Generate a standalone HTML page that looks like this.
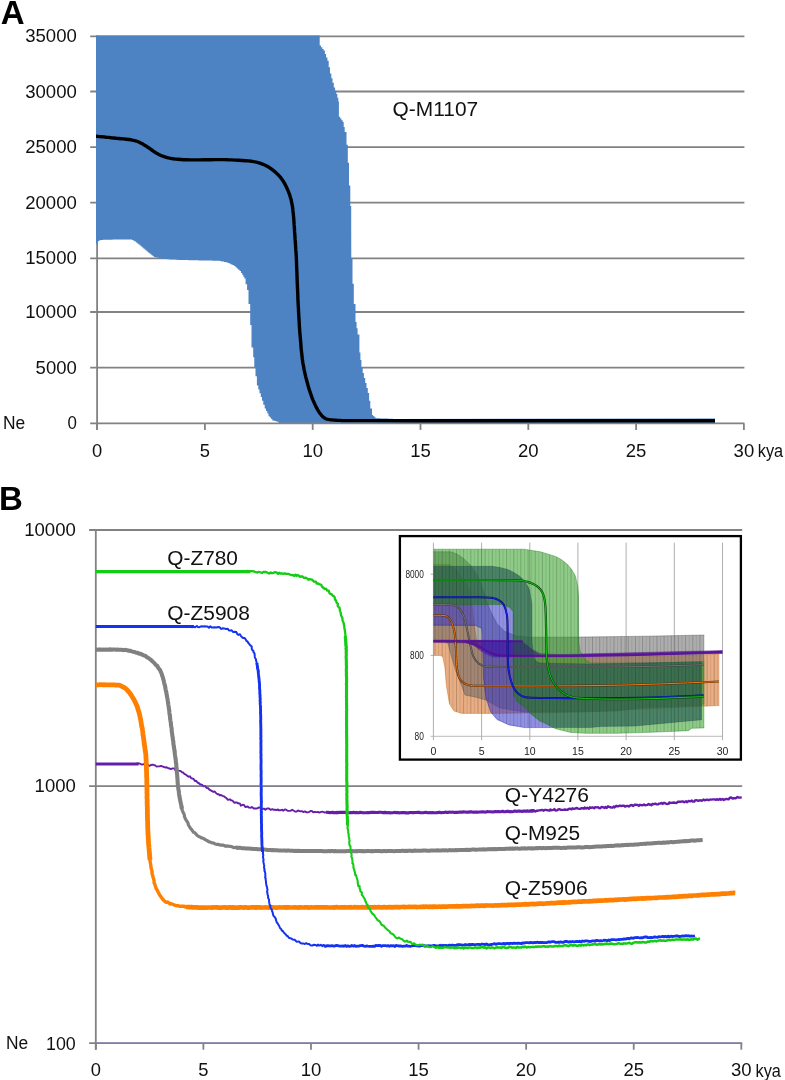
<!DOCTYPE html>
<html><head><meta charset="utf-8"><title>Figure</title>
<style>html,body{margin:0;padding:0;background:#fff;}svg{display:block;}text{font-family:"Liberation Sans",sans-serif;}</style>
</head><body>
<svg width="785" height="1080" viewBox="0 0 785 1080" style="will-change:transform">
<rect width="785" height="1080" fill="#fff"/>
<g id="panelA">
<line x1="90.2" x2="744.4" y1="367.60" y2="367.60" stroke="#828282" stroke-width="1.8"/>
<line x1="90.2" x2="744.4" y1="312.00" y2="312.00" stroke="#828282" stroke-width="1.8"/>
<line x1="90.2" x2="744.4" y1="258.40" y2="258.40" stroke="#828282" stroke-width="1.8"/>
<line x1="90.2" x2="744.4" y1="202.70" y2="202.70" stroke="#828282" stroke-width="1.8"/>
<line x1="90.2" x2="744.4" y1="147.10" y2="147.10" stroke="#828282" stroke-width="1.8"/>
<line x1="90.2" x2="744.4" y1="91.50" y2="91.50" stroke="#828282" stroke-width="1.8"/>
<line x1="90.2" x2="744.4" y1="36.40" y2="36.40" stroke="#828282" stroke-width="1.8"/>
<line x1="97.1" x2="97.1" y1="35.6" y2="429.9" stroke="#828282" stroke-width="1.8"/>
<polygon points="96.0,244.7 96.0,35.6 318.5,35.6 319.7,35.6 319.7,45.5 321.0,45.5 321.0,47.2 322.3,47.2 322.3,48.9 323.6,48.9 323.6,50.6 324.9,50.6 324.9,54.0 326.1,54.0 326.1,57.4 327.4,57.4 327.4,60.8 328.7,60.8 328.7,67.2 330.0,67.2 330.0,73.5 331.3,73.5 331.3,78.2 332.5,78.2 332.5,82.8 333.8,82.8 333.8,87.5 335.1,87.5 335.1,90.7 336.3,90.7 336.3,93.9 337.3,93.9 337.3,97.7 338.3,97.7 338.3,101.5 338.9,101.5 338.9,116.8 340.2,116.8 340.2,118.5 341.4,118.5 341.4,120.3 342.7,120.3 342.7,122.0 343.7,122.0 343.7,127.0 344.7,127.0 344.7,132.0 346.5,132.0 346.5,144.8 347.8,144.8 347.8,162.7 349.0,162.7 349.0,185.6 350.3,185.6 350.3,206.0 351.2,206.0 351.2,230.0 351.3,258.0 352.5,258.0 352.5,283.7 353.8,283.7 353.8,304.0 355.5,304.0 355.5,322.0 356.6,322.0 356.6,328.3 357.6,328.3 357.6,334.6 359.4,334.6 359.4,352.5 360.4,352.5 360.4,360.1 361.4,360.1 361.4,367.8 362.7,367.8 362.7,372.9 363.9,372.9 363.9,377.9 365.2,377.9 365.2,383.0 366.5,383.0 366.5,388.0 367.8,388.0 367.8,393.0 369.1,393.0 369.1,400.8 370.3,400.8 370.3,408.5 372.0,408.5 372.0,415.0 373.1,415.0 373.1,416.1 374.3,416.1 374.3,417.1 375.4,417.1 375.4,418.2 376.7,418.2 376.7,418.2 377.9,418.2 377.9,418.3 379.2,418.3 379.2,418.3 380.4,418.3 380.4,418.4 381.7,418.4 381.7,418.4 382.9,418.4 382.9,418.5 384.2,418.5 384.2,418.5 385.5,418.5 385.5,418.6 386.7,418.6 386.7,418.6 388.0,418.6 388.0,418.7 389.2,418.7 389.2,418.8 390.5,418.8 390.5,418.8 391.7,418.8 391.7,418.8 393.0,418.8 393.0,418.9 715.0,418.6 715.0,423.0 278.6,423.0 278.6,421.8 277.4,421.8 277.4,421.5 276.1,421.5 276.1,421.1 274.9,421.1 274.9,420.8 273.6,420.8 273.6,420.5 272.3,420.5 272.3,419.1 271.1,419.1 271.1,417.6 269.8,417.6 269.8,416.2 268.5,416.2 268.5,413.6 267.3,413.6 267.3,411.1 266.0,411.1 266.0,408.5 264.7,408.5 264.7,404.7 263.3,404.7 263.3,400.8 262.0,400.8 262.0,397.0 260.8,397.0 260.8,393.2 259.5,393.2 259.5,389.4 258.3,389.4 258.3,385.6 256.9,385.6 256.9,376.3 255.5,376.3 255.5,367.0 254.3,367.0 254.3,357.2 253.2,357.2 253.2,347.4 251.5,347.4 251.5,325.0 250.2,325.0 250.2,304.0 248.5,304.0 248.5,290.0 247.1,290.0 247.1,284.3 245.6,284.3 245.6,278.6 244.4,278.6 244.4,276.7 243.3,276.7 243.3,274.8 242.2,274.8 242.2,272.9 241.0,272.9 241.0,271.0 239.6,271.0 239.6,269.7 238.2,269.7 238.2,268.4 236.8,268.4 236.8,267.2 235.4,267.2 235.4,265.9 234.2,265.9 234.2,265.3 232.9,265.3 232.9,264.8 231.7,264.8 231.7,264.2 230.5,264.2 230.5,263.6 229.2,263.6 229.2,263.1 228.0,263.1 228.0,262.5 226.7,262.5 226.7,262.2 225.3,262.2 225.3,261.9 224.0,261.9 224.0,261.6 222.7,261.6 222.7,261.4 221.3,261.4 221.3,261.1 220.0,261.1 220.0,260.8 218.7,260.8 218.7,260.8 217.5,260.8 217.5,260.7 216.2,260.7 216.2,260.7 214.9,260.7 214.9,260.7 213.7,260.7 213.7,260.7 212.4,260.7 212.4,260.6 211.1,260.6 211.1,260.6 209.9,260.6 209.9,260.6 208.6,260.6 208.6,260.6 207.3,260.6 207.3,260.5 206.1,260.5 206.1,260.5 204.8,260.5 204.8,260.5 203.5,260.5 203.5,260.5 202.3,260.5 202.3,260.4 201.0,260.4 201.0,260.4 199.7,260.4 199.7,260.4 198.5,260.4 198.5,260.3 197.2,260.3 197.2,260.3 195.9,260.3 195.9,260.3 194.7,260.3 194.7,260.3 193.4,260.3 193.4,260.2 192.1,260.2 192.1,260.2 190.9,260.2 190.9,260.2 189.6,260.2 189.6,260.2 188.3,260.2 188.3,260.1 187.1,260.1 187.1,260.1 185.8,260.1 185.8,260.1 184.5,260.1 184.5,260.1 183.3,260.1 183.3,260.0 182.0,260.0 182.0,260.0 180.8,260.0 180.8,259.9 179.6,259.9 179.6,259.9 178.4,259.9 178.4,259.8 177.1,259.8 177.1,259.7 175.9,259.7 175.9,259.6 174.7,259.6 174.7,259.6 173.5,259.6 173.5,259.5 172.3,259.5 172.3,259.4 171.1,259.4 171.1,259.4 169.9,259.4 169.9,259.3 168.6,259.3 168.6,259.2 167.4,259.2 167.4,259.1 166.2,259.1 166.2,259.1 165.0,259.1 165.0,259.0 163.8,259.0 163.8,258.8 162.5,258.8 162.5,258.5 161.2,258.5 161.2,258.2 160.0,258.2 160.0,258.0 158.8,258.0 158.8,257.8 157.5,257.8 157.5,257.5 156.2,257.5 156.2,257.2 155.0,257.2 155.0,257.0 153.8,257.0 153.8,256.1 152.7,256.1 152.7,255.2 151.5,255.2 151.5,254.2 150.3,254.2 150.3,253.3 149.2,253.3 149.2,252.4 148.0,252.4 148.0,251.5 146.8,251.5 146.8,250.5 145.7,250.5 145.7,249.5 144.5,249.5 144.5,248.5 143.3,248.5 143.3,247.5 142.2,247.5 142.2,246.5 141.0,246.5 141.0,245.5 139.8,245.5 139.8,244.5 138.5,244.5 138.5,243.5 137.2,243.5 137.2,242.5 136.0,242.5 136.0,241.5 134.7,241.5 134.7,240.8 133.3,240.8 133.3,240.1 132.0,240.1 132.0,239.4 115.0,239.6 113.8,239.6 113.8,239.6 112.6,239.6 112.6,239.7 111.4,239.7 111.4,239.7 110.2,239.7 110.2,239.7 109.0,239.7 109.0,239.7 107.7,239.7 107.7,239.8 106.5,239.8 106.5,239.8 105.3,239.8 105.3,239.8 104.1,239.8 104.1,239.8 102.9,239.8 102.9,239.9 101.7,239.9 101.7,239.9 100.3,239.9 100.3,240.6 98.9,240.6 98.9,241.3 97.5,241.3 97.5,242.0" fill="#4d82c3"/>
<line x1="90.2" x2="744.4" y1="423.4" y2="423.4" stroke="#828282" stroke-width="1.8"/>
<line x1="97.10" x2="97.10" y1="423.4" y2="429.9" stroke="#828282" stroke-width="1.8"/>
<line x1="204.90" x2="204.90" y1="423.4" y2="429.9" stroke="#828282" stroke-width="1.8"/>
<line x1="312.70" x2="312.70" y1="423.4" y2="429.9" stroke="#828282" stroke-width="1.8"/>
<line x1="420.50" x2="420.50" y1="423.4" y2="429.9" stroke="#828282" stroke-width="1.8"/>
<line x1="528.30" x2="528.30" y1="423.4" y2="429.9" stroke="#828282" stroke-width="1.8"/>
<line x1="636.10" x2="636.10" y1="423.4" y2="429.9" stroke="#828282" stroke-width="1.8"/>
<line x1="743.90" x2="743.90" y1="423.4" y2="429.9" stroke="#828282" stroke-width="1.8"/>
<polyline points="96.0,136.3 96.6,136.3 97.7,136.4 99.4,136.6 101.6,136.7 103.9,136.9 106.3,137.2 108.8,137.4 111.2,137.8 113.8,138.0 116.2,138.3 118.8,138.5 121.2,138.7 123.7,138.9 126.2,139.2 128.7,139.5 131.1,139.8 133.4,140.3 135.5,140.8 137.5,141.5 139.3,142.3 141.1,143.2 142.9,144.1 144.6,145.2 146.4,146.3 148.2,147.5 149.9,148.7 151.8,150.0 153.6,151.3 155.4,152.5 157.2,153.6 158.9,154.5 160.5,155.3 162.3,156.0 164.2,156.7 166.3,157.3 168.4,157.9 170.7,158.3 173.1,158.8 175.6,159.1 178.1,159.3 180.9,159.5 183.7,159.7 186.7,159.8 189.9,159.9 193.2,159.9 196.7,159.9 200.4,159.9 204.2,159.8 207.9,159.7 211.4,159.7 214.8,159.6 217.9,159.6 221.2,159.6 224.6,159.6 228.1,159.8 231.6,159.9 235.2,160.1 238.7,160.3 242.1,160.5 245.6,160.7 248.6,160.9 251.2,161.2 253.4,161.6 255.3,161.9 257.1,162.4 258.9,162.9 260.6,163.4 262.4,164.1 264.1,164.8 265.7,165.5 267.2,166.3 268.8,167.2 270.2,168.2 271.8,169.2 273.2,170.4 274.8,171.6 276.2,172.9 277.6,174.2 278.9,175.6 280.1,176.9 281.3,178.4 282.4,180.0 283.5,181.6 284.5,183.4 285.5,185.2 286.4,187.1 287.3,189.0 288.2,191.0 289.0,193.1 289.8,195.2 290.4,197.4 291.1,199.6 291.6,202.1 292.1,204.7 292.6,207.5 292.9,210.5 293.3,213.7 293.6,217.1 293.9,220.6 294.1,224.4 294.4,228.1 294.6,231.9 294.9,235.6 295.1,239.4 295.4,243.0 295.6,246.5 295.8,249.9 296.1,253.1 296.3,257.2 296.5,262.2 296.7,268.1 297.0,274.9 297.2,281.6 297.5,288.3 297.8,295.0 298.0,301.7 298.4,308.1 298.7,314.4 299.1,320.4 299.4,326.3 299.8,332.0 300.3,337.8 300.8,343.5 301.2,349.1 301.8,354.3 302.3,358.9 302.9,363.0 303.6,366.6 304.2,370.1 305.0,373.6 305.8,377.1 306.7,380.5 307.6,383.7 308.4,386.8 309.3,389.7 310.2,392.4 311.1,395.0 312.0,397.6 313.0,400.1 314.0,402.4 315.0,404.6 315.9,406.5 316.8,408.2 317.7,409.8 318.5,411.1 319.3,412.4 320.1,413.5 320.9,414.5 321.6,415.4 322.3,416.1 322.9,416.8 323.6,417.2 324.2,417.7 324.8,418.1 325.4,418.5 326.1,418.8 327.0,419.1 328.3,419.4 330.0,419.7 332.0,419.9 334.3,420.1 336.8,420.3 339.6,420.4 342.8,420.6 368.0,420.6 415.5,420.7 485.2,420.7 577.2,420.8 646.1,420.8 692.0,420.8 715.0,420.8" fill="none" stroke="#000" stroke-width="3.4" stroke-linejoin="round" stroke-linecap="butt" />
<text x="76.8" y="429.4" text-anchor="end" font-size="18.3" font-family="Liberation Sans, sans-serif" fill="#111" textLength="9.4" lengthAdjust="spacingAndGlyphs">0</text>
<text x="76.8" y="373.6" text-anchor="end" font-size="18.3" font-family="Liberation Sans, sans-serif" fill="#111" textLength="41.2" lengthAdjust="spacingAndGlyphs">5000</text>
<text x="76.8" y="318.0" text-anchor="end" font-size="18.3" font-family="Liberation Sans, sans-serif" fill="#111" textLength="51.6" lengthAdjust="spacingAndGlyphs">10000</text>
<text x="76.8" y="264.4" text-anchor="end" font-size="18.3" font-family="Liberation Sans, sans-serif" fill="#111" textLength="51.6" lengthAdjust="spacingAndGlyphs">15000</text>
<text x="76.8" y="208.7" text-anchor="end" font-size="18.3" font-family="Liberation Sans, sans-serif" fill="#111" textLength="51.6" lengthAdjust="spacingAndGlyphs">20000</text>
<text x="76.8" y="153.1" text-anchor="end" font-size="18.3" font-family="Liberation Sans, sans-serif" fill="#111" textLength="51.6" lengthAdjust="spacingAndGlyphs">25000</text>
<text x="76.8" y="97.5" text-anchor="end" font-size="18.3" font-family="Liberation Sans, sans-serif" fill="#111" textLength="51.6" lengthAdjust="spacingAndGlyphs">30000</text>
<text x="76.8" y="42.4" text-anchor="end" font-size="18.3" font-family="Liberation Sans, sans-serif" fill="#111" textLength="51.6" lengthAdjust="spacingAndGlyphs">35000</text>
<text x="97.1" y="456.6" text-anchor="middle" font-size="18.3" font-family="Liberation Sans, sans-serif" fill="#111" textLength="10.2" lengthAdjust="spacingAndGlyphs">0</text>
<text x="204.9" y="456.6" text-anchor="middle" font-size="18.3" font-family="Liberation Sans, sans-serif" fill="#111" textLength="10.2" lengthAdjust="spacingAndGlyphs">5</text>
<text x="312.7" y="456.6" text-anchor="middle" font-size="18.3" font-family="Liberation Sans, sans-serif" fill="#111" textLength="20.6" lengthAdjust="spacingAndGlyphs">10</text>
<text x="420.5" y="456.6" text-anchor="middle" font-size="18.3" font-family="Liberation Sans, sans-serif" fill="#111" textLength="20.6" lengthAdjust="spacingAndGlyphs">15</text>
<text x="528.3" y="456.6" text-anchor="middle" font-size="18.3" font-family="Liberation Sans, sans-serif" fill="#111" textLength="20.6" lengthAdjust="spacingAndGlyphs">20</text>
<text x="636.1" y="456.6" text-anchor="middle" font-size="18.3" font-family="Liberation Sans, sans-serif" fill="#111" textLength="20.6" lengthAdjust="spacingAndGlyphs">25</text>
<text x="743.9" y="456.6" text-anchor="middle" font-size="18.3" font-family="Liberation Sans, sans-serif" fill="#111" textLength="20.6" lengthAdjust="spacingAndGlyphs">30</text>
<text x="3.0" y="428.8" font-size="18.3" font-family="Liberation Sans, sans-serif" fill="#111" textLength="22.2" lengthAdjust="spacingAndGlyphs">Ne</text>
<text x="757.8" y="456.6" font-size="18.3" font-family="Liberation Sans, sans-serif" fill="#111" textLength="25.4" lengthAdjust="spacingAndGlyphs">kya</text>
<text x="0.7" y="24.4" font-size="33" font-weight="bold" font-family="Liberation Sans, sans-serif" fill="#000">A</text>
<text x="392.6" y="115.9" font-size="20.2" font-family="Liberation Sans, sans-serif" fill="#111" textLength="85.6" lengthAdjust="spacingAndGlyphs">Q-M1107</text>
</g>
<g id="panelB">
<line x1="89.1" x2="742.2" y1="530.0" y2="530.0" stroke="#828282" stroke-width="1.8"/>
<line x1="89.1" x2="742.2" y1="786.2" y2="786.2" stroke="#828282" stroke-width="1.8"/>
<line x1="95.8" x2="95.8" y1="529.1" y2="1049.7" stroke="#828282" stroke-width="1.8"/>
<line x1="89.1" x2="742.2" y1="1043.1" y2="1043.1" stroke="#828282" stroke-width="1.8"/>
<line x1="95.80" x2="95.80" y1="1043.1" y2="1049.7" stroke="#828282" stroke-width="1.8"/>
<line x1="203.38" x2="203.38" y1="1043.1" y2="1049.7" stroke="#828282" stroke-width="1.8"/>
<line x1="310.97" x2="310.97" y1="1043.1" y2="1049.7" stroke="#828282" stroke-width="1.8"/>
<line x1="418.56" x2="418.56" y1="1043.1" y2="1049.7" stroke="#828282" stroke-width="1.8"/>
<line x1="526.14" x2="526.14" y1="1043.1" y2="1049.7" stroke="#828282" stroke-width="1.8"/>
<line x1="633.72" x2="633.72" y1="1043.1" y2="1049.7" stroke="#828282" stroke-width="1.8"/>
<line x1="741.31" x2="741.31" y1="1043.1" y2="1049.7" stroke="#828282" stroke-width="1.8"/>
<polyline points="95.8,764.0 138.6,764.0" fill="none" stroke="#661eaa" stroke-width="3.1" stroke-linejoin="round" stroke-linecap="butt" />
<polyline points="136.0,764.0 137.6,763.5 139.6,763.5 140.9,764.1 141.9,764.5 143.3,764.4 144.7,763.9 146.4,765.3 147.6,764.4 149.5,765.9 150.9,765.0 152.7,764.6 154.1,765.2 154.9,765.1 156.6,766.6 158.0,766.4 159.9,766.2 161.3,765.9 162.2,766.4 164.1,767.0 165.1,767.5 166.6,767.2 168.2,768.2 169.2,768.3 170.9,769.1 172.6,768.4 174.3,768.4 175.0,769.9 176.0,769.8 177.2,770.6 179.1,770.8 180.6,770.9 181.8,772.1 183.0,772.5 184.6,774.1 185.6,774.4 186.6,775.2 188.5,776.7 190.0,776.3 190.9,777.9 192.0,778.5 193.6,778.9 194.9,781.0 196.2,780.8 197.6,782.7 198.4,782.7 200.0,784.2 201.4,784.9 202.2,784.8 203.4,786.4 205.1,785.9 205.6,786.8 206.9,788.0 208.4,788.3 209.1,789.4 210.7,790.3 212.5,791.3 213.4,791.8 214.8,791.5 216.4,793.5 217.7,794.2 218.6,794.2 219.7,795.3 221.0,795.0 222.5,795.8 224.0,796.3 225.1,797.2 226.6,798.3 227.9,799.9 229.9,799.3 231.0,800.3 232.5,800.6 234.4,802.8 235.4,802.5 236.5,802.4 238.2,803.3 240.1,803.7 240.8,805.7 242.7,804.8 244.0,804.9 245.3,807.0 246.9,806.8 247.7,806.5 248.9,807.6 250.7,807.8 251.9,807.0 253.8,808.5 255.3,808.4 256.7,808.5 257.6,808.2 259.1,807.4 260.3,808.0 261.9,808.9 264.0,808.6 265.4,809.7 266.8,808.6 267.6,808.5 269.0,808.5 270.8,809.9 272.4,809.2 273.7,809.9 274.6,809.7 276.7,810.0 278.0,809.5 278.8,810.2 280.3,810.3 282.3,809.7 283.1,810.8 284.8,809.5 285.6,809.5 287.6,810.8 288.2,810.9 290.3,810.7 291.1,810.6 292.2,809.8 294.2,811.0 295.2,811.6 296.4,811.6 298.1,810.5 299.0,810.8 300.5,811.4 301.9,811.1 303.3,812.1 304.9,811.4 306.6,812.3 307.9,812.4 309.4,811.8 310.9,810.9 312.2,811.2 313.3,812.4 314.9,811.9 316.8,812.1 317.9,812.0 319.5,812.6 320.5,812.2 322.0,811.7 323.9,812.2 325.0,812.7 326.7,812.1 327.8,812.3 329.1,812.7 330.4,812.4 332.0,813.2 333.7,813.1 335.5,812.0 336.7,813.2 338.5,811.8 339.7,812.4 342.0,812.5" fill="none" stroke="#661eaa" stroke-width="1.9" stroke-linejoin="round" stroke-linecap="butt" />
<polyline points="326.0,812.3 327.2,812.2 328.5,812.4 330.1,812.6 331.2,812.5 332.7,812.2 334.1,812.7 335.2,812.7 336.6,812.4 338.1,812.6 339.2,812.4 340.6,812.4 341.8,812.4 343.3,812.2 344.5,812.4 345.7,812.4 347.2,812.5 348.3,812.8 349.8,812.8 350.9,812.4 352.2,812.7 353.6,812.3 354.9,812.8 356.4,812.4 357.5,812.8 358.9,812.7 360.1,812.3 361.6,812.5 362.7,812.8 364.1,812.7 365.3,812.8 366.6,812.8 368.0,812.5 369.3,812.8 370.5,812.4 371.9,812.4 373.1,812.4 374.4,812.4 375.7,812.5 377.2,812.5 378.4,812.4 379.7,812.3 380.9,812.3 382.4,812.6 383.5,812.6 385.0,812.4 386.3,812.6 387.5,812.8 388.8,812.6 390.2,812.9 391.4,812.8 392.8,812.7 394.0,812.5 395.2,812.4 396.5,812.8 397.8,812.4 399.1,812.9 400.6,812.8 401.8,812.5 403.1,812.6 404.4,812.6 405.7,812.9 407.3,812.7 408.4,812.9 409.7,812.5 411.0,812.5 412.4,812.6 413.7,812.6 414.9,812.5 416.3,812.5 417.6,812.3 419.0,812.4 420.4,812.6 421.8,812.7 423.1,812.8 424.4,812.5 425.9,812.3 427.1,812.6 428.2,812.8 429.8,812.6 431.1,812.7 432.2,812.5 433.7,812.7 435.1,812.7 436.3,812.7 437.7,812.6 438.8,812.2 440.1,812.4 441.4,812.7 442.8,812.5 444.2,812.5 445.4,812.1 446.8,812.5 448.0,812.4 449.4,812.1 450.7,812.2 451.8,812.2 453.3,812.1 454.6,812.6 455.9,812.2 457.2,812.4 458.6,812.3 459.8,812.0 461.0,812.1 462.5,812.1 463.7,811.9 464.9,812.0 466.4,812.3 467.7,812.0 468.9,812.1 470.2,811.9 471.6,811.9 473.0,812.3 474.0,812.0 475.5,812.3 476.7,811.9 477.9,812.2 479.2,812.0 480.5,812.0 482.1,811.7 483.3,811.9 484.7,812.0 485.8,812.1 487.1,811.6 488.3,811.8 489.7,811.7 490.9,811.7 492.3,812.0 493.5,811.9 495.1,811.5 496.4,811.8 497.7,811.6 498.8,811.6 500.3,811.7 501.4,811.6 502.7,811.3 503.9,811.8 505.3,811.8 506.6,811.4 508.0,811.3 509.2,811.7 510.7,811.6 511.9,811.7 513.3,811.4 514.5,811.1 515.8,811.3 517.1,811.4 518.3,811.0 519.8,811.1 520.9,811.2 522.3,811.4 523.8,811.1 525.1,811.1 526.4,811.1 527.7,810.9 529.1,811.3 530.5,810.9 532.0,811.3 533.2,810.8 534.6,811.0" fill="none" stroke="#661eaa" stroke-width="3.1" stroke-linejoin="round" stroke-linecap="butt" />
<polyline points="530.0,811.1 531.1,810.4 532.6,810.3 533.8,810.5 535.4,811.5 536.9,810.6 538.0,810.7 539.3,810.4 540.4,810.2 542.5,809.9 543.4,810.7 545.1,809.9 545.9,809.9 547.4,810.2 549.2,810.7 550.5,809.4 551.1,810.4 553.2,809.9 554.3,809.1 555.4,810.5 557.1,810.4 558.6,809.3 559.2,809.1 560.9,809.9 562.6,809.9 563.7,809.9 564.9,809.5 565.9,809.8 567.3,809.9 569.0,808.9 569.9,808.7 571.6,809.4 572.5,808.3 574.2,809.0 575.4,808.4 576.9,808.0 578.0,808.6 579.8,808.9 581.1,808.5 581.9,808.1 583.8,808.7 584.6,807.6 586.1,808.6 587.3,807.8 588.8,808.8 589.8,807.3 591.1,807.9 592.7,807.4 594.1,808.2 595.2,807.3 596.9,807.4 598.1,807.2 598.9,808.0 600.3,808.2 601.7,806.9 602.8,807.2 604.5,808.0 605.4,807.0 606.7,807.9 608.0,806.3 609.2,806.8 611.2,807.5 612.3,807.6 613.8,806.5 614.5,807.4 616.2,805.8 617.5,806.3 618.5,806.2 619.7,805.6 621.1,806.0 622.9,805.6 624.2,805.7 625.0,806.6 626.7,805.9 627.4,805.9 628.9,806.5 630.1,805.5 632.0,804.9 633.0,806.1 634.7,804.8 635.5,804.7 637.6,804.9 638.8,805.9 639.9,804.8 641.8,805.2 642.6,805.3 644.0,804.5 645.1,805.2 647.2,804.9 648.6,803.9 649.5,804.5 651.4,805.2 652.3,804.0 653.6,804.2 655.4,803.6 656.6,804.4 657.9,804.4 659.1,803.6 660.2,803.5 661.9,803.0 662.7,803.9 664.1,802.7 665.3,803.4 666.8,804.0 668.6,803.9 669.4,802.4 670.6,802.9 672.5,802.7 673.5,802.5 675.1,802.8 676.6,803.0 677.9,801.7 679.4,801.8 680.6,801.8 682.1,801.4 683.0,801.4 684.3,802.3 686.0,801.3 687.2,802.2 688.7,800.9 690.3,801.4 691.8,800.4 692.7,801.5 694.3,801.6 695.0,800.5 696.4,800.2 698.4,800.8 699.7,800.3 700.9,800.4 701.8,800.8 703.7,799.6 704.7,800.4 705.7,799.9 707.1,799.6 708.6,800.2 710.3,799.5 711.2,799.6 713.1,799.4 714.3,799.4 716.1,799.9 716.9,799.1 718.6,799.8 720.1,798.9 721.0,799.8 722.6,799.0 723.8,800.0 725.1,799.3 726.5,798.9 728.5,799.4 729.8,797.7 731.4,797.5 732.3,798.5 734.0,798.2 735.7,798.2 737.4,797.0 738.8,797.6 741.7,797.5" fill="none" stroke="#661eaa" stroke-width="2.4" stroke-linejoin="round" stroke-linecap="butt" />
<polyline points="95.8,649.6 97.2,649.8 98.4,649.6 99.9,649.6 101.2,649.5 102.6,649.8 103.9,649.6 105.4,649.8 106.6,649.5 108.1,649.8 109.4,649.4 110.8,649.6 112.2,649.6 113.5,649.5 114.9,649.5 116.2,649.7 117.6,649.5 118.8,649.7 120.2,649.8 121.4,649.8 122.9,650.1 124.1,650.0 125.6,649.9 127.2,650.2 128.9,650.7 130.5,650.9 131.8,651.4 133.1,651.8 134.4,652.0 135.6,652.4 137.0,652.7 138.4,653.4 139.7,653.6 141.0,654.0 142.1,654.7 143.3,655.2 144.6,655.6 145.8,656.2 147.2,657.4 148.5,658.0 149.9,659.1 151.3,660.1 152.5,661.5 153.8,662.5 154.9,663.8 156.1,665.1 157.3,666.0 158.2,667.7 159.0,668.8 160.1,670.1 160.7,671.7 161.4,673.1 162.0,674.9 162.3,675.9 162.8,677.2 163.1,678.4 163.5,679.9 163.9,681.3 164.1,682.6 164.4,683.9 164.8,685.2 165.2,686.6 165.4,688.2 165.6,689.6 166.0,690.7 166.2,692.0 166.5,693.5 166.7,695.0 167.0,696.1 167.2,697.4 167.5,698.7 167.7,700.3 167.9,701.5 168.1,702.8 168.3,704.5 168.6,706.2 168.8,707.7 168.9,708.8 169.2,710.0 169.3,711.5 169.4,712.9 169.6,714.4 169.9,715.6 170.1,717.2 170.1,718.7 170.3,719.6 170.5,721.1 170.8,722.5 170.9,723.6 171.0,725.1 171.2,726.4 171.5,727.8 171.7,729.4 171.7,730.9 171.9,732.2 172.1,733.5 172.3,735.1 172.4,736.4 172.8,737.6 172.8,739.1 173.1,740.5 173.3,741.7 173.4,743.1 173.5,744.7 173.9,746.1 173.9,747.6 174.3,749.0 174.5,750.5 174.6,751.8 174.8,753.3 175.0,755.0 175.2,756.4 175.4,757.5 175.6,759.0 175.8,760.4 175.8,761.8 176.1,763.1 176.3,764.6 176.3,766.1 176.5,767.9 176.7,769.2 176.8,770.6 176.8,772.2 177.0,773.5 177.2,775.0 177.2,776.4 177.4,777.7 177.4,778.9 177.6,780.1 177.6,781.5 177.7,782.9 177.8,784.1 178.0,786.0 178.2,787.3 178.3,788.8 178.7,790.6 178.9,792.1 179.0,793.5 179.2,795.1 179.6,796.6 179.7,798.0 180.1,799.5 180.2,800.6 180.5,801.9 180.9,803.6 181.2,805.0 181.5,806.2 181.6,807.5 182.0,809.0" fill="none" stroke="#808080" stroke-width="4.1" stroke-linejoin="round" stroke-linecap="butt" />
<polyline points="181.5,807.0 181.8,807.2 181.8,808.4 182.1,809.8 182.8,811.7 183.2,812.6 184.0,814.0 184.4,815.4 184.4,816.4 185.2,818.3 185.8,819.7 186.5,820.7 187.4,821.9 188.1,823.3 188.3,824.7 189.5,826.7 189.9,827.4 190.9,828.9 191.7,829.7 192.7,831.1 193.5,832.3 194.6,832.5 195.8,833.8 196.6,834.9 197.7,835.9 199.2,836.7 200.3,837.1 201.5,837.9 203.1,838.3 204.4,839.0 205.6,839.9 207.5,840.8 208.7,841.9 209.9,841.9 211.4,842.6 212.8,843.0 213.8,843.1 215.2,844.0 216.9,844.3 218.1,844.4 219.9,844.9 221.0,845.1 222.9,845.1 224.0,845.5 225.7,846.3 226.9,845.9 228.3,846.2 229.9,846.3 231.3,846.5 233.0,847.2 234.0,847.7 235.5,847.3 237.4,847.9 238.7,847.7 240.0,848.0" fill="none" stroke="#808080" stroke-width="3.2" stroke-linejoin="round" stroke-linecap="butt" />
<polyline points="236.0,847.6 236.9,847.7 238.9,847.8 240.4,847.8 241.7,848.2 243.2,848.2 244.5,848.3 245.9,848.4 247.5,848.6 249.1,848.6 250.5,848.8 252.0,848.7 253.5,849.0 255.0,849.1 256.4,849.1 257.8,849.2 259.2,849.3 260.6,849.3 262.1,849.5 263.5,849.4 264.9,849.6 266.3,849.7 267.7,849.9 268.9,849.9 270.4,849.9 271.7,850.2 273.0,850.1 274.4,850.3 275.9,850.2 277.1,850.3 278.5,850.4 279.8,850.4 281.2,850.4 282.4,850.6 283.7,850.6 285.0,850.6 286.3,850.8 287.7,850.5 289.0,850.6 290.3,850.7 291.8,850.8 293.1,850.7 294.5,850.9 296.0,850.8 297.3,850.9 298.7,850.8 300.0,851.0 301.5,851.0 302.8,851.0 304.2,851.1 305.6,851.0 307.1,851.1 308.3,851.0 309.7,850.9 311.1,851.0 312.4,851.0 313.7,851.0 315.1,850.9 316.3,851.1 317.7,851.0 319.1,851.1 320.4,851.1 321.8,851.0 323.2,851.2 324.4,851.2 325.9,851.2 327.1,851.2 328.6,850.9 329.8,851.3 331.3,851.0 332.5,851.0 333.9,851.2 335.2,851.0 336.7,851.2 337.9,851.3 339.3,851.2 340.7,851.3 342.1,851.3 343.2,851.2 344.6,851.2 345.9,851.3 347.2,851.1 348.5,851.0 349.8,851.0 351.1,851.0 352.4,851.1 353.7,851.3 354.9,851.2 356.3,851.1 357.6,851.2 358.9,851.1 360.3,851.0 361.5,851.2 362.7,851.1 364.1,851.3 365.4,851.3 366.7,851.1 368.1,850.9 369.3,851.1 370.6,851.2 371.9,851.1 373.2,851.2 374.4,851.1 375.8,851.1 377.2,851.0 378.5,851.0 379.7,851.0 381.0,851.2 382.3,851.2 383.6,851.0 384.9,851.1 386.2,851.2 387.4,851.1 388.9,851.1 390.0,851.0 391.3,850.9 392.8,851.1 394.0,851.2 395.4,851.1 396.7,851.1 398.0,851.0 399.3,850.9 400.6,850.9 402.0,850.8 403.2,850.8 404.6,851.1 405.9,850.8 407.3,851.0 408.5,850.8 409.8,850.8 411.1,850.8 412.5,851.0 413.7,850.8 415.0,850.6 416.5,850.8 417.8,850.7 419.0,850.7 420.4,850.8 421.8,850.7 423.0,850.5 424.4,850.5 425.6,850.4 426.9,850.7 428.3,850.8 429.6,850.7 430.9,850.4 432.3,850.4 433.7,850.4 434.9,850.6 436.3,850.6 437.6,850.3 438.9,850.5 440.2,850.6 441.5,850.6 442.9,850.2 444.1,850.4 445.6,850.2 446.8,850.4 448.1,850.4 449.4,850.1 450.7,850.2 452.0,850.2 453.3,850.3 454.6,850.2 456.0,850.1 457.2,850.2 458.7,850.1 459.9,849.9 461.1,850.1 462.5,850.0 463.8,849.9 465.2,850.0 466.4,849.7 467.7,849.9 469.0,849.8 470.4,849.9 471.7,849.6 472.9,849.6 474.3,849.6 475.6,849.7 476.8,849.7 478.2,849.6 479.5,849.4 480.9,849.6 482.1,849.6 483.4,849.2 484.7,849.5 486.0,849.4 487.4,849.2 488.7,849.3 490.0,849.1 491.2,849.3 492.6,849.1 493.8,849.2 495.2,849.0 496.5,849.2 497.9,849.0 499.2,849.0 500.4,848.9 501.8,849.0 503.1,848.9 504.5,848.9 505.8,848.7 507.2,848.8 508.4,848.8 509.9,848.6 511.2,848.7 512.5,848.5 513.7,848.8 515.2,848.6 516.5,848.5 517.8,848.6 519.2,848.7 520.5,848.7 521.7,848.3 523.1,848.4 524.4,848.3 525.8,848.5 527.1,848.5 528.5,848.2 529.8,848.3 531.0,848.5 532.4,848.3 533.8,848.4 535.1,848.2 536.4,848.1 537.8,848.3 539.0,848.0 540.3,848.1 541.8,848.2 543.1,847.9 544.4,848.1 545.7,848.2 546.9,847.9 548.3,848.1 549.6,847.9 550.9,848.0 552.1,847.9 553.5,847.8 554.8,847.8 556.1,847.7 557.5,847.7 558.8,847.7 560.0,847.9 561.3,847.9 562.8,847.9 563.9,847.7 565.2,847.9 566.7,847.7 567.9,847.6 569.3,847.6 570.6,847.5 571.9,847.4 573.4,847.5 574.6,847.6 576.0,847.4 577.4,847.3 578.8,847.3 580.1,847.3 581.5,847.4 582.8,847.4 584.1,847.3 585.6,847.0 586.9,847.0 588.3,847.0 589.6,847.2 591.1,847.1 592.3,846.9 593.8,846.7 595.1,846.7 596.5,846.6 597.8,846.6 599.1,846.4 600.5,846.5 601.8,846.4 603.2,846.3 604.5,846.2 605.8,846.3 607.2,846.0 608.5,845.9 609.9,846.0 611.2,845.8 612.6,845.9 614.0,845.8 615.2,845.5 616.6,845.6 617.9,845.3 619.3,845.4 620.6,845.5 621.9,845.1 623.3,845.2 624.6,845.0 625.8,845.1 627.2,844.8 628.5,844.9 629.7,844.8 631.1,844.7 632.3,844.7 633.8,844.7 635.0,844.5 636.3,844.5 637.5,844.4 639.0,844.2 640.2,844.1 641.5,843.9 643.0,843.9 644.2,843.7 645.6,843.9 647.0,843.5 648.5,843.5 649.7,843.5 651.2,843.4 652.6,843.2 654.0,843.3 655.2,843.0 656.7,843.1 658.0,842.8 659.4,842.7 660.8,842.9 662.1,842.7 663.6,842.5 665.0,842.7 666.2,842.4 667.7,842.3 668.9,842.4 670.3,842.1 671.6,842.0 673.0,842.2 674.4,842.0 675.8,841.9 677.0,841.7 678.5,841.8 679.7,841.5 681.1,841.4 682.5,841.2 683.8,841.3 685.1,841.0 686.6,841.2 687.9,841.0 689.3,841.0 690.6,840.6 691.9,840.6 693.3,840.5 694.6,840.7 696.0,840.4 697.3,840.3 698.7,840.2 700.0,840.2 701.3,840.1 702.7,840.0" fill="none" stroke="#808080" stroke-width="4.0" stroke-linejoin="round" stroke-linecap="butt" stroke-linecap="round"/>
<polyline points="95.8,684.8 97.3,684.8 98.5,684.8 100.0,684.7 101.3,684.7 102.7,684.8 104.1,684.7 105.4,684.8 107.0,684.8 108.3,684.9 109.6,684.9 111.1,684.8 112.5,684.8 113.8,684.8 115.1,685.0 116.5,685.1 117.8,685.1 119.3,685.1 120.5,685.6 121.7,686.3 123.0,687.0 124.3,687.5 125.8,688.7 127.0,689.8 128.2,691.3 129.3,692.4 130.5,694.1 131.4,695.4 132.4,697.1 133.4,698.8 134.3,700.3 135.2,702.0 135.7,703.2 136.3,704.5 136.8,705.6 137.3,706.9 137.8,708.5 138.2,710.1 138.7,711.4 139.1,713.0 139.5,714.3 139.8,715.9 140.2,717.5 140.5,719.1 140.8,720.6 141.1,722.3 141.3,723.6 141.5,725.0 141.7,726.5 142.1,727.7 142.4,729.3 142.6,730.9 142.8,732.2 142.9,733.9 143.0,735.1 143.4,736.7 143.6,738.4 143.8,739.9 144.0,741.3 144.2,742.6 144.3,744.1 144.5,745.6 144.8,746.9 144.8,748.2 145.1,749.6 145.3,751.0 145.5,752.1 145.6,753.5 145.9,754.7 145.9,756.3 145.9,757.5 146.1,759.1 146.1,760.2 146.2,761.9 146.3,763.4 146.4,764.6 146.3,765.9 146.4,767.3 146.4,768.5 146.5,770.0 146.5,771.5 146.6,772.5 146.6,774.1 146.6,775.4 146.6,776.6 146.8,778.0 146.8,779.2 146.8,780.7 146.8,782.1 146.8,783.5 146.9,784.6 146.8,785.9 147.0,787.2 146.9,788.5 147.0,790.1 147.0,791.5 146.9,792.5 147.1,793.9 147.1,795.3 147.0,796.6 147.0,798.2 147.2,799.3 147.2,800.6 147.1,802.2 147.2,803.5 147.2,804.7 147.2,805.8 147.4,807.5 147.3,808.8 147.4,809.9 147.4,811.5 147.4,812.8 147.3,814.0 147.5,815.2 147.4,816.8 147.5,818.1 147.5,819.2 147.5,820.5 147.7,821.9 147.6,823.1 147.7,824.6 147.7,825.8 147.7,827.4 147.8,828.5 147.8,829.8 147.9,831.0 148.0,832.4 148.0,833.9 148.0,835.0 148.3,836.3 148.2,837.9 148.4,839.0 148.4,840.6 148.5,842.0 148.5,843.4 148.7,844.4 148.8,845.7 148.9,847.2 149.1,848.7 149.1,850.0 149.3,851.4 149.4,852.8 149.5,854.4 149.6,855.9 149.7,857.2 149.9,858.5 150.0,860.0" fill="none" stroke="#ff8000" stroke-width="4.8" stroke-linejoin="round" stroke-linecap="butt" />
<polyline points="149.8,857.0 149.8,857.3 149.8,859.6 150.1,860.8 150.2,862.1 150.5,863.5 150.7,864.5 150.9,866.0 151.1,867.9 151.4,869.0 151.9,870.8 152.2,872.1 152.0,872.8 152.2,874.5 152.8,875.5 152.9,877.1 153.4,878.1 153.8,879.7 154.1,880.9 154.1,883.1 154.9,884.2 154.9,884.8 155.4,886.2 155.9,887.7 156.4,889.1 157.4,890.5 158.2,892.3 158.9,893.3 159.5,895.0 160.2,895.6 161.3,897.5 161.8,897.8 162.9,899.5 163.6,900.0 164.7,901.3 165.9,902.3 167.5,902.0 168.8,902.9 170.1,904.0 171.4,903.7 173.2,904.5 174.7,905.2 176.3,905.7 177.9,905.6 179.3,906.2 181.0,906.2 182.7,906.1 184.1,906.2 185.4,907.1 186.5,907.0 188.2,907.2 190.0,907.2" fill="none" stroke="#ff8000" stroke-width="3.4" stroke-linejoin="round" stroke-linecap="butt" />
<polyline points="186.0,907.0 187.4,907.0 188.7,907.1 190.1,907.1 191.5,907.2 192.9,907.4 194.2,907.4 195.6,907.4 197.0,907.4 198.3,907.6 199.6,907.5 201.0,907.6 202.4,907.6 203.6,907.6 205.1,907.5 206.4,907.7 207.7,907.5 209.1,907.5 210.4,907.5 211.7,907.6 213.1,907.4 214.4,907.5 215.8,907.4 217.1,907.4 218.6,907.6 219.8,907.6 221.3,907.6 222.5,907.5 223.9,907.4 225.2,907.4 226.6,907.6 227.9,907.7 229.3,907.4 230.5,907.4 231.8,907.6 233.3,907.4 234.5,907.6 235.9,907.7 237.2,907.6 238.6,907.6 239.8,907.4 241.3,907.4 242.5,907.5 243.8,907.6 245.1,907.3 246.5,907.5 247.9,907.6 249.2,907.7 250.5,907.5 251.8,907.4 253.2,907.3 254.5,907.4 255.8,907.7 257.1,907.3 258.4,907.4 259.8,907.3 261.2,907.6 262.5,907.5 263.7,907.5 265.1,907.4 266.4,907.5 267.8,907.6 269.1,907.4 270.4,907.4 271.7,907.4 273.0,907.3 274.3,907.5 275.8,907.6 277.1,907.6 278.4,907.5 279.7,907.3 281.0,907.5 282.3,907.5 283.8,907.4 285.0,907.4 286.3,907.6 287.5,907.3 288.9,907.4 290.1,907.5 291.5,907.5 292.8,907.5 294.1,907.4 295.4,907.3 296.8,907.5 298.0,907.6 299.3,907.3 300.7,907.3 302.0,907.5 303.2,907.5 304.5,907.4 305.9,907.3 307.2,907.3 308.5,907.6 309.8,907.5 311.1,907.3 312.5,907.5 313.6,907.5 315.0,907.3 316.4,907.4 317.7,907.3 319.0,907.3 320.2,907.4 321.4,907.4 322.8,907.3 324.2,907.4 325.5,907.4 326.8,907.4 328.1,907.5 329.3,907.5 330.6,907.5 332.0,907.5 333.2,907.4 334.6,907.6 335.9,907.2 337.2,907.2 338.5,907.5 339.7,907.5 341.1,907.3 342.3,907.4 343.8,907.4 344.9,907.2 346.2,907.5 347.6,907.4 348.9,907.4 350.2,907.2 351.6,907.4 352.9,907.5 354.2,907.2 355.4,907.2 356.7,907.5 358.1,907.2 359.3,907.5 360.7,907.3 362.0,907.2 363.3,907.3 364.6,907.4 365.8,907.3 367.1,907.5 368.5,907.2 369.7,907.3 371.1,907.4 372.4,907.3 373.6,907.4 375.0,907.2 376.3,907.5 377.5,907.2 378.9,907.2 380.2,907.3 381.5,907.3 382.8,907.4 384.2,907.1 385.5,907.3 386.8,907.3 388.1,907.3 389.3,907.1 390.7,907.3 392.1,907.2 393.2,907.3 394.6,907.2 395.9,907.1 397.2,907.1 398.4,907.1 399.8,907.3 401.1,907.0 402.4,907.0 403.7,906.9 404.9,907.2 406.3,907.0 407.7,907.0 408.9,906.9 410.2,906.9 411.6,907.0 412.9,906.9 414.2,907.0 415.4,906.8 416.8,907.1 418.1,907.0 419.4,907.0 420.6,906.9 422.1,906.8 423.3,906.7 424.6,906.8 426.0,906.7 427.2,906.7 428.5,906.9 429.9,906.7 431.2,907.0 432.5,906.6 433.8,906.9 435.0,906.6 436.3,906.8 437.7,906.8 439.0,906.6 440.2,906.8 441.6,906.7 442.9,906.6 444.1,906.6 445.4,906.7 446.8,906.6 448.1,906.5 449.4,906.4 450.8,906.5 452.1,906.3 453.4,906.5 454.6,906.3 455.9,906.3 457.3,906.2 458.6,906.3 459.9,906.3 461.2,906.3 462.5,906.2 463.9,906.1 465.2,906.2 466.5,906.0 467.8,906.3 469.0,906.0 470.4,906.2 471.6,905.8 473.0,906.0 474.3,905.9 475.7,905.8 476.9,905.7 478.1,905.7 479.4,905.8 480.8,905.6 482.2,905.7 483.4,905.6 484.8,905.8 486.0,905.4 487.4,905.5 488.7,905.5 490.0,905.5 491.3,905.5 492.5,905.6 493.8,905.5 495.1,905.4 496.5,905.5 497.8,905.3 499.1,905.4 500.6,905.3 501.8,905.1 503.1,905.1 504.4,905.0 505.9,905.1 507.1,905.1 508.4,904.9 509.7,905.0 511.2,904.7 512.5,904.9 513.8,904.7 515.1,904.8 516.4,904.7 517.8,904.6 519.1,904.7 520.4,904.6 521.8,904.5 523.2,904.3 524.5,904.5 525.7,904.1 527.0,904.4 528.3,904.4 529.7,904.2 531.0,904.0 532.5,903.9 533.7,904.2 535.1,904.1 536.5,903.8 537.7,904.0 539.1,903.6 540.4,903.6 541.7,903.5 542.9,903.8 544.3,903.7 545.6,903.5 546.9,903.4 548.2,903.4 549.5,903.3 550.9,903.0 552.2,903.1 553.6,903.0 554.8,903.1 556.2,903.0 557.4,902.7 558.7,902.6 560.0,902.7 561.4,902.7 562.7,902.4 564.0,902.6 565.3,902.4 566.7,902.5 568.0,902.4 569.2,902.2 570.6,902.3 572.0,902.0 573.3,901.9 574.8,901.8 576.1,902.0 577.4,901.8 578.8,901.6 580.1,901.5 581.6,901.7 582.9,901.4 584.3,901.4 585.6,901.4 586.9,901.5 588.2,901.3 589.7,901.2 591.0,901.3 592.3,901.1 593.8,900.9 595.1,900.8 596.4,900.9 597.8,900.7 599.2,900.7 600.4,900.6 601.8,900.7 603.2,900.5 604.5,900.4 605.8,900.2 607.3,900.3 608.6,900.2 610.0,900.0 611.2,900.2 612.6,900.0 614.0,900.1 615.4,899.7 616.7,899.9 618.1,899.6 619.4,899.6 620.7,899.5 622.2,899.5 623.5,899.3 624.9,899.6 626.3,899.3 627.6,899.3 629.0,899.0 630.4,899.1 631.7,898.9 633.1,898.9 634.5,898.7 635.8,898.9 637.2,898.7 638.7,898.6 640.0,898.5 641.5,898.4 642.8,898.6 644.1,898.4 645.6,898.4 646.9,898.1 648.3,898.2 649.7,898.1 651.0,898.2 652.4,898.0 653.6,898.0 655.1,897.8 656.4,897.9 657.6,897.8 658.9,897.5 660.3,897.5 661.5,897.5 662.9,897.5 664.1,897.4 665.5,897.3 666.8,897.2 668.1,897.3 669.4,897.0 670.7,897.1 672.0,897.0 673.3,896.7 674.7,896.8 676.0,896.8 677.2,896.5 678.5,896.6 679.8,896.3 681.2,896.4 682.4,896.4 683.9,896.2 685.1,896.2 686.5,896.1 687.9,896.1 689.2,895.7 690.4,895.8 691.7,895.9 693.0,895.5 694.4,895.5 695.8,895.5 697.0,895.4 698.3,895.2 699.7,895.3 701.1,895.0 702.3,894.9 703.6,894.9 704.9,894.9 706.3,894.8 707.6,894.6 709.0,894.7 710.1,894.5 711.6,894.4 712.9,894.3 714.1,894.4 715.5,894.3 716.9,894.2 718.1,894.2 719.5,894.1 720.7,893.9 722.1,893.7 723.5,893.6 724.8,893.5 726.1,893.6 727.4,893.5 728.7,893.5 730.0,893.2 731.4,893.1 732.7,893.1 733.9,892.9 735.3,893.0" fill="none" stroke="#ff8000" stroke-width="4.7" stroke-linejoin="round" stroke-linecap="butt" stroke-linecap="round"/>
<polyline points="95.8,626.4 194.0,626.4" fill="none" stroke="#1432f0" stroke-width="3.0" stroke-linejoin="round" stroke-linecap="butt" />
<polyline points="190.0,626.4 192.1,627.2 193.7,626.8 195.1,627.2 196.9,626.0 197.9,626.9 199.4,627.2 201.1,626.3 202.8,626.5 204.3,626.3 206.1,626.6 207.5,626.4 209.0,627.8 210.2,626.4 211.7,627.4 213.0,627.4 214.4,627.3 216.4,627.4 218.0,627.1 219.6,627.3 221.3,628.9 222.9,628.3 224.0,628.4 226.0,629.0 227.8,628.8 229.0,630.5 230.6,630.5 231.7,630.3 233.2,632.1 234.9,631.7 236.3,632.0 237.3,634.2 238.4,634.9 239.9,634.2 240.8,635.8 241.9,637.1 243.0,638.1 244.1,637.9 245.4,638.9 246.5,641.0 247.5,641.4 248.0,642.5 249.0,643.7 249.7,644.8 250.7,645.6 251.7,646.5 251.8,649.0 252.5,650.2 253.5,651.0 253.4,651.9 254.5,653.4 254.7,655.6 254.8,656.7 255.2,658.1 255.9,659.0 256.0,660.3 256.4,661.5 256.8,664.3 257.4,665.9 257.2,667.5 257.9,668.7 258.2,670.1 258.5,672.0" fill="none" stroke="#1432f0" stroke-width="2.0" stroke-linejoin="round" stroke-linecap="butt" />
<polyline points="257.0,663.0 257.2,665.0 257.4,666.6 257.6,668.2 257.9,669.6 258.2,671.0 258.3,672.6 258.5,674.4 258.7,675.5 258.7,677.2 259.0,678.4 259.1,680.2 259.2,681.5 259.4,683.0 259.5,684.2 259.6,685.8 259.5,687.1 259.6,688.8 259.8,690.0 259.8,691.4 259.8,692.9 259.9,694.5 260.1,695.7 260.0,696.9 260.2,698.4 260.2,699.6 260.1,700.9 260.3,702.2 260.2,703.5 260.3,704.5 260.5,706.1 260.5,707.2 260.5,708.9 260.6,710.1 260.6,711.5 260.5,712.6 260.6,714.1 260.7,715.2 260.7,716.7 260.7,717.8 260.8,719.5 260.6,720.8 260.7,721.8 260.7,723.3 260.8,725.0 260.8,726.3 260.8,727.8 260.9,729.1 260.9,730.6 260.8,731.7 260.9,733.4 260.8,734.7 261.0,736.2 260.8,737.5 260.8,738.7 261.0,740.2 261.0,741.6 260.9,742.8 260.9,744.5 261.0,745.6 260.9,746.9 261.0,748.4 261.0,749.9 260.9,751.2 260.9,752.7 260.9,753.7 261.1,755.1 260.9,756.7 261.0,758.0 261.0,759.1 261.1,760.5 261.1,761.6 261.1,762.9 261.0,764.2 261.0,766.0 261.0,767.2 261.0,768.3 261.0,769.8 261.2,771.1 261.1,772.6 261.2,773.8 261.0,775.1 261.1,776.6 261.1,777.8 261.2,778.9 261.1,780.4 261.2,781.6 261.1,783.2 261.0,784.4 261.2,785.6 261.2,787.0 261.3,788.3 261.3,789.3 261.2,790.6 261.3,792.3 261.1,793.5 261.2,794.5 261.2,796.2 261.3,797.2 261.3,798.6 261.3,799.9 261.4,801.4 261.4,802.7 261.3,804.1 261.3,805.3 261.3,806.3 261.3,808.0 261.4,809.1 261.2,810.5 261.4,811.6 261.4,812.9 261.3,814.2 261.3,815.6 261.5,817.2 261.3,818.3 261.5,819.6 261.4,821.0 261.4,822.3 261.5,823.7 261.6,825.0 261.5,826.7 261.5,828.0 261.6,829.3 261.5,830.4 261.7,831.9 261.7,833.3 261.7,834.5 261.6,836.1 261.7,837.2 261.8,838.5 261.8,839.8 261.9,841.4 261.9,842.9 261.9,843.9 262.0,845.4 262.2,846.8 262.2,848.2 262.2,849.2 262.5,850.9 262.5,852.0" fill="none" stroke="#1432f0" stroke-width="2.9" stroke-linejoin="round" stroke-linecap="butt" />
<polyline points="262.3,848.0 262.6,849.9 262.8,851.0 263.1,853.1 262.8,853.9 263.3,855.2 262.9,857.4 263.3,858.2 263.6,860.2 263.3,860.6 263.4,862.1 263.9,864.2 264.2,865.1 264.1,866.4 264.1,868.2 264.7,869.6 264.3,870.7 265.0,871.8 265.3,873.7 265.3,875.0 265.4,876.4 265.1,877.5 265.8,878.7 265.6,879.2 266.0,881.8 266.0,882.3 266.1,883.6 266.7,886.5 267.0,887.0 267.1,888.0 267.5,889.9 267.0,891.8 267.4,892.6 267.5,894.3 268.2,896.2 268.0,897.7 268.3,898.1 269.0,899.7 269.1,901.4 269.3,903.2 269.7,904.7 270.5,905.6 270.3,907.4 270.8,908.4 271.6,909.1 272.2,911.5 272.6,912.3 273.0,913.9 273.3,915.6 274.4,916.7 275.0,917.5 275.7,918.6 276.0,920.2 276.8,922.5 277.8,923.5 278.2,924.5 279.2,926.0 280.0,928.0 281.1,928.9 281.8,930.5 282.8,931.0 284.0,932.8 285.3,933.9 286.3,935.2 287.1,935.9 287.7,935.9 288.8,937.7 290.5,938.2 291.4,938.4 292.6,939.5 294.5,939.7 295.0,940.0 296.5,941.7 298.2,941.5 298.9,941.4 300.2,942.8 301.8,943.6 303.7,943.6 304.9,944.0 306.2,943.2 308.0,944.1 309.1,943.9 310.4,945.2 312.3,945.5 314.1,944.8 315.4,944.9 317.0,945.8 318.0,944.6 319.3,945.6 320.8,944.8 322.4,946.1 323.4,945.0 325.1,945.9 326.0,945.6 328.0,946.0" fill="none" stroke="#1432f0" stroke-width="2.0" stroke-linejoin="round" stroke-linecap="butt" />
<polyline points="324.0,945.9 325.4,946.3 326.7,946.0 327.9,945.6 329.5,945.8 330.5,946.0 331.8,945.6 333.3,946.0 334.7,946.1 336.0,945.5 337.4,945.5 338.7,945.8 340.1,946.1 341.2,946.1 342.8,945.9 343.8,946.3 345.4,945.5 346.5,946.4 347.9,945.8 349.5,946.3 350.7,946.2 351.8,945.5 353.6,946.2 354.4,945.5 355.9,946.4 357.2,946.1 358.9,946.1 360.2,945.7 361.2,945.5 362.8,945.5 364.2,946.2 365.2,946.3 366.5,946.0 367.8,946.2 369.5,946.4 370.4,946.3 372.0,946.3 373.3,946.1 374.7,946.3 375.8,945.5 377.4,945.7 378.6,945.5 380.1,945.5 381.5,946.3 382.6,945.6 384.1,945.7 385.3,945.6 386.9,946.0 387.9,945.6 389.4,946.3 390.8,945.6 391.9,945.8 393.5,945.6 394.7,946.5 396.1,945.5 397.1,945.6 398.7,946.0 399.9,945.9 401.2,946.0 402.6,946.3 404.0,946.2 405.3,946.2 406.6,945.4 407.8,946.2 409.0,946.2 410.2,946.3 411.6,946.0 412.9,945.6 414.2,945.6 415.4,945.7 417.1,945.9 418.4,946.0 419.7,946.2 420.9,945.5 422.0,945.6 423.2,945.4 424.9,946.1 426.0,945.9 427.5,946.1 428.8,945.7 429.8,946.0 431.2,945.8 432.5,945.7 434.1,945.3 435.2,945.7 436.5,946.0 437.7,946.0 439.2,946.0 440.2,945.2 441.6,945.9 442.8,945.2 444.5,945.9 445.5,945.3 447.1,945.6 448.4,945.6 449.5,945.1 450.7,945.5 452.1,945.0 453.8,945.4 455.0,945.3 456.3,945.3 457.4,944.7 458.6,944.6 460.1,944.7 461.3,945.0 463.0,945.2 464.0,945.2 465.3,944.5 466.7,944.8 468.2,944.8 469.5,944.4 470.9,944.6 472.2,944.3 473.5,944.5 474.8,945.0 476.1,944.5 477.1,944.3 478.8,944.3 480.0,944.7 481.4,944.2 482.4,944.1 484.2,944.3 485.3,944.5 486.5,943.9 487.7,944.7 489.1,944.8 490.5,944.5 491.7,944.5 493.1,944.0 494.6,943.7 495.8,944.4 497.1,943.9 498.7,943.7 499.7,943.7 501.1,943.8 502.6,943.9 504.0,943.4 505.3,944.2 506.4,943.3 507.8,943.4 509.1,943.9 510.3,943.3 511.8,943.3 513.0,943.5 514.3,943.1 515.8,943.4 517.4,943.4 518.3,943.1 520.0,943.3 521.4,943.7 522.8,942.8 524.1,943.1 525.1,942.7 526.8,942.7 527.7,942.7 529.5,942.9 530.7,942.4 531.9,942.6 533.2,942.9 534.6,942.3 536.2,942.6 537.1,942.1 538.6,942.6 539.6,942.5 541.3,942.5 542.3,942.5 543.8,942.6 544.9,942.7 546.6,942.6 547.9,942.2 549.2,941.9 550.1,942.3 551.8,941.7 552.7,941.7 554.2,941.7 555.3,942.3 556.8,942.4 558.1,942.2 559.2,942.4 560.7,941.9 562.2,942.3 563.5,942.3 564.9,941.5 566.4,941.5 567.8,941.7 568.7,942.2 570.1,941.6 571.5,941.9 572.7,941.5 574.1,942.0 575.4,941.7 576.9,941.5 578.4,941.7 579.6,941.2 581.0,941.9 582.4,941.0 584.0,941.4 585.6,940.8 586.6,940.9 588.2,941.1 589.5,941.5 591.0,941.4 592.6,940.8 594.0,940.9 594.9,941.3 596.2,940.3 597.7,940.5 599.4,941.0 600.4,940.6 602.0,940.8 603.2,940.5 604.3,940.1 605.9,940.4 607.4,940.7 608.8,939.9 609.7,940.5 611.3,939.7 612.8,939.7 614.0,939.7 615.5,939.9 616.7,939.9 618.4,939.5 619.8,939.7 620.9,939.3 622.7,939.4 624.1,938.8 625.6,939.2 626.5,938.7 628.2,938.3 629.3,938.9 630.9,938.0 632.1,938.0 633.4,938.3 634.5,937.7 635.9,937.7 637.1,937.5 638.6,937.7 639.8,937.8 641.6,937.7 642.6,937.8 644.0,937.2 645.4,936.9 646.8,937.0 648.0,937.7 649.5,937.6 650.8,937.3 652.2,937.6 653.3,937.3 654.7,936.8 656.3,937.1 657.6,937.3 658.8,936.6 659.9,936.9 661.6,936.6 662.6,936.3 664.0,936.9 665.3,936.4 666.7,936.9 668.4,936.1 669.3,937.0 671.1,936.2 672.1,936.5 673.5,936.4 674.9,936.2 676.0,936.0 677.4,935.9 679.0,936.5 680.1,936.5 681.7,936.1 682.9,935.9 684.5,936.2 685.4,935.7 687.1,935.9 688.4,935.7 689.8,936.3 690.8,936.0 692.2,936.1 693.8,936.1 695.0,935.8" fill="none" stroke="#1432f0" stroke-width="2.8" stroke-linejoin="round" stroke-linecap="butt" />
<polyline points="95.8,571.6 250.0,571.6" fill="none" stroke="#14cc14" stroke-width="3.3" stroke-linejoin="round" stroke-linecap="butt" />
<polyline points="246.0,571.6 247.4,570.9 249.4,571.9 250.5,571.2 252.3,571.2 253.8,571.4 254.8,571.8 256.5,572.4 257.4,572.5 259.0,571.8 260.8,572.5 262.1,573.0 263.2,572.0 265.0,572.0 266.0,572.0 268.0,573.1 269.3,573.5 270.8,572.4 271.9,573.2 273.1,573.1 274.6,572.2 276.4,572.4 278.1,573.9 279.1,572.8 280.2,573.5 281.9,573.4 283.5,573.8 284.9,573.2 285.6,573.9 287.3,573.8 288.8,573.9 289.8,574.5 291.5,575.2 292.5,574.8 294.3,575.9 295.5,574.6 296.7,575.9 298.0,575.0 300.0,576.9 300.6,576.3 302.6,576.5 303.7,577.8 305.9,577.7 306.8,578.2 308.3,579.8 309.7,579.1 311.7,579.6 312.5,580.1 314.0,581.6 315.9,581.7 316.7,583.6 318.2,583.5 319.2,584.2 321.3,584.8 321.9,586.7 323.7,588.0 324.6,589.0 326.0,588.7 327.2,590.6 328.7,590.6 329.5,593.2 330.5,594.1 331.7,594.2 332.7,595.7 334.1,596.3 334.8,597.8 335.0,599.7 335.9,600.2 336.7,602.8 337.9,603.9 337.6,605.6 338.6,607.2 339.5,607.6 339.9,609.8 339.8,610.3 340.3,611.6 340.7,612.5 341.0,615.2 341.6,616.4 342.5,618.3 342.4,620.3 343.2,621.8 343.4,622.8 343.8,623.3 343.9,625.0 344.3,626.1 344.3,628.1 344.8,629.7 345.0,632.2 345.2,632.5 345.4,635.0 345.3,636.4 344.9,638.3 345.5,639.0 345.4,641.0 345.9,642.6 345.5,643.1 345.6,644.1 345.8,645.4 346.3,647.2 345.7,648.4 346.4,650.0 346.3,652.0" fill="none" stroke="#14cc14" stroke-width="2.3" stroke-linejoin="round" stroke-linecap="butt" />
<polyline points="345.4,636.0 345.5,637.7 345.7,639.7 345.7,641.0 345.9,642.3 346.0,643.8 346.0,645.3 346.2,646.3 346.2,648.0 346.2,649.2 346.2,650.7 346.2,651.7 346.2,653.2 346.3,654.7 346.2,656.1 346.1,657.3 346.3,658.7 346.3,659.8 346.3,661.5 346.4,662.6 346.3,664.1 346.4,665.2 346.5,667.0 346.4,668.0 346.4,669.6 346.3,670.7 346.4,672.2 346.4,673.5 346.4,674.9 346.4,676.4 346.6,677.5 346.6,678.7 346.6,680.1 346.6,681.6 346.5,683.0 346.4,683.8 346.5,685.6 346.6,686.9 346.5,688.2 346.5,689.1 346.5,690.7 346.5,692.0 346.5,693.1 346.5,694.5 346.5,695.6 346.4,697.1 346.6,698.6 346.5,699.6 346.5,700.9 346.6,702.6 346.5,703.7 346.6,705.1 346.6,706.4 346.5,707.8 346.7,708.7 346.7,710.2 346.5,711.3 346.6,712.9 346.5,714.1 346.6,715.7 346.5,716.9 346.5,717.9 346.5,719.4 346.6,720.6 346.5,721.9 346.5,723.2 346.6,724.6 346.5,725.9 346.6,727.5 346.6,728.8 346.6,729.7 346.6,731.0 346.5,732.3 346.7,734.1 346.6,735.1 346.6,736.5 346.7,737.8 346.6,739.4 346.7,740.3 346.7,742.0 346.6,743.3 346.8,744.5 346.7,745.8 346.7,747.3 346.7,748.8 346.6,749.9 346.8,751.4 346.7,752.7 346.7,754.2 346.7,755.3 346.6,756.5 346.8,758.1 346.6,759.2 346.7,760.7 346.7,762.2 346.7,763.4 346.9,764.8 346.7,766.0 346.7,767.4 346.8,768.6 346.7,770.0 346.7,771.6 346.8,772.6 346.7,774.3 346.7,775.5 346.7,776.6 346.7,778.3 346.7,779.3 346.7,780.7 346.9,782.3 346.9,783.7 346.9,785.0 346.8,786.4 346.8,787.4 346.9,789.0 346.8,790.0 347.0,791.7 346.9,793.1 346.8,794.0 346.8,795.3 347.0,797.0 346.8,798.1 346.9,799.7 347.0,801.2 346.9,802.6 347.0,803.6 347.0,804.9 347.2,806.6 347.1,807.6 347.0,808.9 347.1,810.6 347.0,811.8 347.2,812.9 347.1,814.6 347.2,815.9 347.4,817.4 347.3,818.6 347.5,820.3 347.6,821.5 347.4,823.1 347.6,825.0" fill="none" stroke="#14cc14" stroke-width="3.1" stroke-linejoin="round" stroke-linecap="butt" />
<polyline points="347.4,820.0 347.4,822.8 347.2,824.7 348.0,825.9 347.4,828.0 347.9,829.3 348.2,830.9 348.2,832.8 348.8,834.3 348.7,834.6 348.6,835.9 349.2,838.2 349.3,839.7 349.6,840.8 349.2,842.3 349.3,843.3 349.4,845.0 349.8,845.3 350.4,846.2 350.6,849.0 350.1,850.5 350.7,852.2 351.0,852.9 351.5,853.7 351.6,855.2 351.4,856.6 352.2,858.6 352.3,859.7 352.6,861.8 352.3,862.9 353.1,863.7 353.4,865.4 353.5,868.0 354.3,869.6 354.2,870.4 354.9,872.0 355.0,873.5 355.3,875.0 355.7,874.8 356.3,876.1 356.6,877.2 357.3,879.4 357.5,879.9 357.7,881.6 357.8,883.7 358.0,884.3 358.4,886.3 359.6,886.0 359.6,888.1 360.2,889.8 360.4,891.5 360.8,891.5 361.9,892.8 361.8,894.9 362.5,895.5 363.6,897.2 364.1,898.0 364.7,899.1 365.5,901.3 366.3,903.0 366.7,904.1 367.7,905.2 367.8,907.4 369.2,908.3 370.0,908.9 370.6,911.2 371.9,912.8 372.2,913.7 373.5,914.5 374.2,915.3 375.5,917.3 376.4,918.4 377.7,920.4 378.9,920.6 380.3,922.2 381.4,924.6 381.9,925.0 383.8,925.8 384.6,926.9 385.3,927.7 386.6,928.9 388.3,930.5 389.9,931.8 390.6,933.3 392.1,933.7 393.7,934.9 394.5,935.9 395.8,937.6 397.3,938.4 398.6,937.5 400.5,938.7 401.8,939.0 403.3,940.5 404.4,941.4 405.9,941.4 407.0,940.6 407.6,941.7 409.7,941.9 410.6,941.8 411.8,943.7 413.2,943.9 414.0,943.2 415.4,944.6 416.7,945.1 418.3,945.3 419.9,944.6 421.6,945.0 422.9,944.6 424.4,946.5 425.3,946.3 426.9,945.4 428.3,946.5 430.2,947.3 431.6,946.9 432.6,946.2 434.4,947.1 435.7,948.0 437.3,946.8 440.0,947.8" fill="none" stroke="#14cc14" stroke-width="2.1" stroke-linejoin="round" stroke-linecap="butt" />
<polyline points="436.0,947.5 437.3,947.1 439.0,947.9 440.2,947.6 441.9,947.7 443.2,947.7 444.5,947.1 446.0,947.3 447.6,947.4 449.0,947.4 449.9,947.7 451.4,947.5 453.0,947.4 454.3,948.2 455.5,947.8 457.1,947.9 458.0,947.3 459.3,947.6 460.7,948.0 462.2,947.6 463.6,948.4 464.8,947.5 466.2,947.7 467.9,948.1 468.9,947.5 470.0,947.4 471.9,948.0 472.8,948.0 474.1,947.9 475.6,947.4 477.2,948.1 478.4,947.4 479.8,947.8 481.2,947.3 482.6,947.2 483.6,947.7 484.9,947.3 486.5,948.4 487.7,947.5 489.2,947.4 490.4,948.0 491.8,947.3 492.9,947.7 494.8,948.2 495.6,947.7 497.2,947.3 498.6,947.6 500.0,947.4 501.5,948.0 502.5,947.1 503.9,947.1 505.3,947.8 506.6,948.1 507.6,947.8 509.4,947.0 510.5,946.9 512.0,947.7 513.2,947.6 514.5,947.6 515.8,947.9 517.3,946.7 518.4,947.5 520.2,947.4 521.1,947.6 522.8,946.7 523.9,947.3 525.1,946.5 526.6,947.5 528.3,946.8 529.6,947.3 530.9,947.1 532.3,947.1 533.7,947.0 534.6,946.9 536.1,946.6 537.4,946.8 538.8,946.4 540.0,946.7 541.5,946.5 542.9,946.2 544.2,946.2 545.6,946.7 547.0,946.4 548.0,946.9 549.5,946.2 550.7,946.2 552.3,946.6 553.5,946.5 554.7,946.1 556.1,945.9 557.5,946.4 559.0,945.6 560.1,946.3 561.7,946.1 563.1,946.1 564.2,945.3 565.6,945.2 567.3,945.7 568.5,946.2 570.0,945.2 571.0,945.0 572.7,945.7 573.9,945.3 575.1,945.3 576.7,945.8 578.2,945.7 579.3,945.1 580.6,945.7 581.8,944.7 583.3,945.5 585.0,944.8 586.3,945.4 587.3,944.5 588.8,944.6 589.7,945.2 591.2,944.6 592.6,944.3 593.6,944.4 595.1,943.9 596.4,944.8 597.7,944.6 599.2,944.0 600.1,944.5 601.8,944.0 602.8,944.6 604.6,943.8 605.7,944.1 606.8,943.4 608.1,944.1 609.6,943.9 610.6,943.5 612.1,943.7 613.4,944.2 614.6,944.2 616.0,944.0 617.3,943.7 618.7,943.0 620.2,943.8 621.2,943.7 622.7,943.9 623.7,943.2 625.2,943.4 626.8,943.6 628.0,943.1 629.5,942.7 630.5,943.4 632.0,943.7 633.2,942.9 634.8,942.3 636.2,942.3 637.8,942.6 639.4,942.3 641.0,942.5 642.6,942.0 643.8,942.2 645.1,942.5 646.4,942.4 647.9,941.6 649.5,941.7 650.7,941.0 652.5,941.2 653.4,941.4 655.1,940.8 656.3,941.4 657.6,940.8 659.3,940.6 660.3,940.3 661.8,940.8 663.0,940.4 664.2,940.8 665.7,940.8 667.0,940.6 668.1,939.9 670.0,940.4 671.2,940.0 672.4,939.6 673.6,940.1 675.3,939.6 676.7,939.4 678.0,939.4 679.3,939.5 680.7,939.3 682.1,939.8 683.2,939.4 684.9,939.6 686.3,939.8 687.6,939.1 688.9,939.8 690.4,939.7 691.6,939.2 693.4,939.6 694.6,938.7 695.9,938.6 697.5,939.7 698.8,938.8 700.0,939.0" fill="none" stroke="#14cc14" stroke-width="2.5" stroke-linejoin="round" stroke-linecap="butt" />
<line x1="180" x2="342" y1="785.9" y2="785.9" stroke="#7a7ad8" stroke-width="0.8" opacity="0.45"/>
<line x1="96.5" x2="741" y1="1042.5" y2="1042.5" stroke="#8a7ad0" stroke-width="0.8" opacity="0.45"/>
<text x="75.8" y="536.2" text-anchor="end" font-size="18.3" font-family="Liberation Sans, sans-serif" fill="#111" textLength="51.6" lengthAdjust="spacingAndGlyphs">10000</text>
<text x="75.8" y="792.4000000000001" text-anchor="end" font-size="18.3" font-family="Liberation Sans, sans-serif" fill="#111" textLength="41.2" lengthAdjust="spacingAndGlyphs">1000</text>
<text x="75.8" y="1049.5" text-anchor="end" font-size="18.3" font-family="Liberation Sans, sans-serif" fill="#111" textLength="29.8" lengthAdjust="spacingAndGlyphs">100</text>
<text x="95.8" y="1076.3" text-anchor="middle" font-size="18.3" font-family="Liberation Sans, sans-serif" fill="#111" textLength="10.2" lengthAdjust="spacingAndGlyphs">0</text>
<text x="203.4" y="1076.3" text-anchor="middle" font-size="18.3" font-family="Liberation Sans, sans-serif" fill="#111" textLength="10.2" lengthAdjust="spacingAndGlyphs">5</text>
<text x="311.0" y="1076.3" text-anchor="middle" font-size="18.3" font-family="Liberation Sans, sans-serif" fill="#111" textLength="20.6" lengthAdjust="spacingAndGlyphs">10</text>
<text x="418.6" y="1076.3" text-anchor="middle" font-size="18.3" font-family="Liberation Sans, sans-serif" fill="#111" textLength="20.6" lengthAdjust="spacingAndGlyphs">15</text>
<text x="526.1" y="1076.3" text-anchor="middle" font-size="18.3" font-family="Liberation Sans, sans-serif" fill="#111" textLength="20.6" lengthAdjust="spacingAndGlyphs">20</text>
<text x="633.7" y="1076.3" text-anchor="middle" font-size="18.3" font-family="Liberation Sans, sans-serif" fill="#111" textLength="20.6" lengthAdjust="spacingAndGlyphs">25</text>
<text x="741.3" y="1076.3" text-anchor="middle" font-size="18.3" font-family="Liberation Sans, sans-serif" fill="#111" textLength="20.6" lengthAdjust="spacingAndGlyphs">30</text>
<text x="6" y="1049" font-size="18.3" font-family="Liberation Sans, sans-serif" fill="#111" textLength="22.2" lengthAdjust="spacingAndGlyphs">Ne</text>
<text x="755.5" y="1076.6" font-size="18.3" font-family="Liberation Sans, sans-serif" fill="#111" textLength="25.4" lengthAdjust="spacingAndGlyphs">kya</text>
<text x="-1.1" y="510.2" font-size="33" font-weight="bold" font-family="Liberation Sans, sans-serif" fill="#000">B</text>
<text x="167.3" y="564.9" font-size="20.7" font-family="Liberation Sans, sans-serif" fill="#111" textLength="70.6" lengthAdjust="spacingAndGlyphs">Q-Z780</text>
<text x="167.3" y="620.4" font-size="20.7" font-family="Liberation Sans, sans-serif" fill="#111" textLength="82.6" lengthAdjust="spacingAndGlyphs">Q-Z5908</text>
<text x="504.8" y="802" font-size="20.7" font-family="Liberation Sans, sans-serif" fill="#111" textLength="84.2" lengthAdjust="spacingAndGlyphs">Q-Y4276</text>
<text x="504.8" y="840.3" font-size="20.7" font-family="Liberation Sans, sans-serif" fill="#111" textLength="75.4" lengthAdjust="spacingAndGlyphs">Q-M925</text>
<text x="504.8" y="894.5" font-size="20.7" font-family="Liberation Sans, sans-serif" fill="#111" textLength="82.8" lengthAdjust="spacingAndGlyphs">Q-Z5906</text>
</g>
<g id="inset">
<rect x="399.9" y="536.1" width="341.0" height="223.5" fill="#fff" stroke="#000" stroke-width="2.3"/>
<line x1="433.4" x2="433.4" y1="542.7" y2="740.2" stroke="#9a9a9a" stroke-width="0.8"/>
<line x1="481.6" x2="481.6" y1="542.7" y2="740.2" stroke="#9a9a9a" stroke-width="0.8"/>
<line x1="529.8" x2="529.8" y1="542.7" y2="740.2" stroke="#9a9a9a" stroke-width="0.8"/>
<line x1="577.9" x2="577.9" y1="542.7" y2="740.2" stroke="#9a9a9a" stroke-width="0.8"/>
<line x1="626.1" x2="626.1" y1="542.7" y2="740.2" stroke="#9a9a9a" stroke-width="0.8"/>
<line x1="674.3" x2="674.3" y1="542.7" y2="740.2" stroke="#9a9a9a" stroke-width="0.8"/>
<line x1="722.5" x2="722.5" y1="542.7" y2="740.2" stroke="#9a9a9a" stroke-width="0.8"/>
<line x1="430.6" x2="722.5" y1="736.3" y2="736.3" stroke="#a8a8a8" stroke-width="0.8"/>
<line x1="430.6" x2="433.4" y1="574.2" y2="574.2" stroke="#9a9a9a" stroke-width="0.8"/>
<line x1="430.6" x2="433.4" y1="655.4" y2="655.4" stroke="#9a9a9a" stroke-width="0.8"/>
<defs><clipPath id="bandclip">
<polygon points="433.4,551.8 451.0,551.8 457.0,554.0 463.0,558.0 471.0,565.6 477.0,574.7 481.6,585.5 486.0,599.0 490.7,611.5 497.0,623.7 504.5,631.3 516.7,636.0 530.0,637.2 578.0,637.1 645.0,636.2 704.3,635.0 704.3,703.5 700.0,705.5 645.0,707.3 632.0,708.8 616.7,711.0 580.0,712.0 525.0,712.0 500.0,708.0 486.0,700.0 475.0,697.0 465.0,695.0 461.7,685.9 455.6,670.6 451.0,655.0 447.9,643.0 444.0,641.0 433.4,641.0"/>
<polygon points="433.4,564.4 449.5,564.6 453.0,567.0 457.0,570.5 460.6,576.0 464.0,581.0 467.0,586.0 470.0,591.0 472.0,603.0 473.5,618.0 475.0,630.0 477.0,643.0 480.0,651.0 485.0,655.5 500.0,656.5 586.0,657.0 645.0,656.2 719.3,654.3 719.3,705.5 645.0,709.0 560.0,712.5 490.7,713.4 461.7,713.4 454.0,711.0 449.5,704.0 446.4,685.9 444.9,667.5 442.6,656.5 440.0,655.5 433.4,655.5"/>
<polygon points="433.4,640.0 521.0,640.5 530.0,648.0 540.0,653.5 560.0,654.5 722.4,650.5 722.4,653.5 560.0,657.0 494.0,657.0 485.0,654.0 471.0,643.0 433.4,642.5"/>
<polygon points="433.4,566.3 492.0,566.3 500.0,567.5 507.6,569.4 514.0,572.5 519.8,576.3 524.0,580.5 527.4,585.5 529.6,590.0 530.8,597.0 531.9,604.0 532.0,642.0 532.6,647.6 534.0,658.3 536.5,661.5 540.0,663.0 590.0,664.0 702.0,662.0 702.0,719.7 635.0,726.0 601.5,726.4 590.0,727.5 524.4,727.6 509.0,724.9 497.0,719.5 490.7,711.9 486.0,698.0 483.5,678.0 483.0,655.0 482.5,632.0 481.6,628.3 475.5,625.4 433.4,625.2"/>
<polygon points="433.4,549.2 524.0,549.2 540.3,551.8 555.6,556.4 562.0,560.0 567.8,564.8 572.0,570.0 575.5,576.3 577.8,587.0 578.5,596.0 578.7,642.0 580.0,651.0 583.0,656.5 586.0,660.4 590.7,663.0 645.0,663.0 704.3,661.4 704.3,727.9 691.7,728.3 688.5,730.7 650.0,732.3 616.7,733.3 586.0,733.3 570.9,732.5 555.6,728.7 545.0,723.3 539.7,721.0 532.0,715.0 524.4,707.3 516.7,701.0 513.5,695.0 513.0,650.0 513.0,611.5 510.0,607.5 501.5,604.6 433.4,604.6"/>
</clipPath></defs>
<polygon points="433.4,564.4 449.5,564.6 453.0,567.0 457.0,570.5 460.6,576.0 464.0,581.0 467.0,586.0 470.0,591.0 472.0,603.0 473.5,618.0 475.0,630.0 477.0,643.0 480.0,651.0 485.0,655.5 500.0,656.5 586.0,657.0 645.0,656.2 719.3,654.3 719.3,705.5 645.0,709.0 560.0,712.5 490.7,713.4 461.7,713.4 454.0,711.0 449.5,704.0 446.4,685.9 444.9,667.5 442.6,656.5 440.0,655.5 433.4,655.5" fill="rgba(215,105,30,0.55)"/>
<polyline points="433.4,564.4 449.5,564.6 453.0,567.0 457.0,570.5 460.6,576.0 464.0,581.0 467.0,586.0 470.0,591.0 472.0,603.0 473.5,618.0 475.0,630.0 477.0,643.0 480.0,651.0 485.0,655.5 500.0,656.5 586.0,657.0 645.0,656.2 719.3,654.3" fill="none" stroke="#c8640a" stroke-width="0.7" opacity="0.55"/>
<polyline points="719.3,705.5 645.0,709.0 560.0,712.5 490.7,713.4 461.7,713.4 454.0,711.0 449.5,704.0 446.4,685.9 444.9,667.5 442.6,656.5 440.0,655.5 433.4,655.5" fill="none" stroke="#c8640a" stroke-width="0.7" opacity="0.55"/>
<polygon points="433.4,551.8 451.0,551.8 457.0,554.0 463.0,558.0 471.0,565.6 477.0,574.7 481.6,585.5 486.0,599.0 490.7,611.5 497.0,623.7 504.5,631.3 516.7,636.0 530.0,637.2 578.0,637.1 645.0,636.2 704.3,635.0 704.3,703.5 700.0,705.5 645.0,707.3 632.0,708.8 616.7,711.0 580.0,712.0 525.0,712.0 500.0,708.0 486.0,700.0 475.0,697.0 465.0,695.0 461.7,685.9 455.6,670.6 451.0,655.0 447.9,643.0 444.0,641.0 433.4,641.0" fill="rgba(100,100,100,0.53)"/>
<polyline points="433.4,551.8 451.0,551.8 457.0,554.0 463.0,558.0 471.0,565.6 477.0,574.7 481.6,585.5 486.0,599.0 490.7,611.5 497.0,623.7 504.5,631.3 516.7,636.0 530.0,637.2 578.0,637.1 645.0,636.2 704.3,635.0" fill="none" stroke="#505050" stroke-width="0.7" opacity="0.55"/>
<polyline points="704.3,703.5 700.0,705.5 645.0,707.3 632.0,708.8 616.7,711.0 580.0,712.0 525.0,712.0 500.0,708.0 486.0,700.0 475.0,697.0 465.0,695.0 461.7,685.9 455.6,670.6 451.0,655.0 447.9,643.0 444.0,641.0 433.4,641.0" fill="none" stroke="#505050" stroke-width="0.7" opacity="0.55"/>
<polygon points="433.4,640.0 521.0,640.5 530.0,648.0 540.0,653.5 560.0,654.5 722.4,650.5 722.4,653.5 560.0,657.0 494.0,657.0 485.0,654.0 471.0,643.0 433.4,642.5" fill="rgba(75,15,145,0.68)"/>
<polyline points="433.4,640.0 521.0,640.5 530.0,648.0 540.0,653.5 560.0,654.5 722.4,650.5" fill="none" stroke="#4a1080" stroke-width="0.7" opacity="0.55"/>
<polyline points="722.4,653.5 560.0,657.0 494.0,657.0 485.0,654.0 471.0,643.0 433.4,642.5" fill="none" stroke="#4a1080" stroke-width="0.7" opacity="0.55"/>
<polygon points="433.4,566.3 492.0,566.3 500.0,567.5 507.6,569.4 514.0,572.5 519.8,576.3 524.0,580.5 527.4,585.5 529.6,590.0 530.8,597.0 531.9,604.0 532.0,642.0 532.6,647.6 534.0,658.3 536.5,661.5 540.0,663.0 590.0,664.0 702.0,662.0 702.0,719.7 635.0,726.0 601.5,726.4 590.0,727.5 524.4,727.6 509.0,724.9 497.0,719.5 490.7,711.9 486.0,698.0 483.5,678.0 483.0,655.0 482.5,632.0 481.6,628.3 475.5,625.4 433.4,625.2" fill="rgba(55,55,205,0.55)"/>
<polyline points="433.4,566.3 492.0,566.3 500.0,567.5 507.6,569.4 514.0,572.5 519.8,576.3 524.0,580.5 527.4,585.5 529.6,590.0 530.8,597.0 531.9,604.0 532.0,642.0 532.6,647.6 534.0,658.3 536.5,661.5 540.0,663.0 590.0,664.0 702.0,662.0" fill="none" stroke="#1a1aa0" stroke-width="0.7" opacity="0.55"/>
<polyline points="702.0,719.7 635.0,726.0 601.5,726.4 590.0,727.5 524.4,727.6 509.0,724.9 497.0,719.5 490.7,711.9 486.0,698.0 483.5,678.0 483.0,655.0 482.5,632.0 481.6,628.3 475.5,625.4 433.4,625.2" fill="none" stroke="#1a1aa0" stroke-width="0.7" opacity="0.55"/>
<polygon points="433.4,549.2 524.0,549.2 540.3,551.8 555.6,556.4 562.0,560.0 567.8,564.8 572.0,570.0 575.5,576.3 577.8,587.0 578.5,596.0 578.7,642.0 580.0,651.0 583.0,656.5 586.0,660.4 590.7,663.0 645.0,663.0 704.3,661.4 704.3,727.9 691.7,728.3 688.5,730.7 650.0,732.3 616.7,733.3 586.0,733.3 570.9,732.5 555.6,728.7 545.0,723.3 539.7,721.0 532.0,715.0 524.4,707.3 516.7,701.0 513.5,695.0 513.0,650.0 513.0,611.5 510.0,607.5 501.5,604.6 433.4,604.6" fill="rgba(50,160,35,0.55)"/>
<polyline points="433.4,549.2 524.0,549.2 540.3,551.8 555.6,556.4 562.0,560.0 567.8,564.8 572.0,570.0 575.5,576.3 577.8,587.0 578.5,596.0 578.7,642.0 580.0,651.0 583.0,656.5 586.0,660.4 590.7,663.0 645.0,663.0 704.3,661.4" fill="none" stroke="#1c7a1c" stroke-width="0.7" opacity="0.55"/>
<polyline points="704.3,727.9 691.7,728.3 688.5,730.7 650.0,732.3 616.7,733.3 586.0,733.3 570.9,732.5 555.6,728.7 545.0,723.3 539.7,721.0 532.0,715.0 524.4,707.3 516.7,701.0 513.5,695.0 513.0,650.0 513.0,611.5 510.0,607.5 501.5,604.6 433.4,604.6" fill="none" stroke="#1c7a1c" stroke-width="0.7" opacity="0.55"/>
<defs><clipPath id="clipblue"><polygon points="433.4,566.3 492.0,566.3 500.0,567.5 507.6,569.4 514.0,572.5 519.8,576.3 524.0,580.5 527.4,585.5 529.6,590.0 530.8,597.0 531.9,604.0 532.0,642.0 532.6,647.6 534.0,658.3 536.5,661.5 540.0,663.0 590.0,664.0 702.0,662.0 702.0,719.7 635.0,726.0 601.5,726.4 590.0,727.5 524.4,727.6 509.0,724.9 497.0,719.5 490.7,711.9 486.0,698.0 483.5,678.0 483.0,655.0 482.5,632.0 481.6,628.3 475.5,625.4 433.4,625.2"/></clipPath></defs>
<polygon points="433.4,549.2 524.0,549.2 540.3,551.8 555.6,556.4 562.0,560.0 567.8,564.8 572.0,570.0 575.5,576.3 577.8,587.0 578.5,596.0 578.7,642.0 580.0,651.0 583.0,656.5 586.0,660.4 590.7,663.0 645.0,663.0 704.3,661.4 704.3,727.9 691.7,728.3 688.5,730.7 650.0,732.3 616.7,733.3 586.0,733.3 570.9,732.5 555.6,728.7 545.0,723.3 539.7,721.0 532.0,715.0 524.4,707.3 516.7,701.0 513.5,695.0 513.0,650.0 513.0,611.5 510.0,607.5 501.5,604.6 433.4,604.6" fill="rgba(0,35,15,0.18)" clip-path="url(#clipblue)"/>
<g clip-path="url(#bandclip)">
<line x1="435.0" x2="435.0" y1="545" y2="736" stroke="rgba(0,0,0,0.24)" stroke-width="0.8"/>
<line x1="438.6" x2="438.6" y1="545" y2="736" stroke="rgba(0,0,0,0.12)" stroke-width="0.8"/>
<line x1="442.2" x2="442.2" y1="545" y2="736" stroke="rgba(0,0,0,0.24)" stroke-width="0.8"/>
<line x1="445.7" x2="445.7" y1="545" y2="736" stroke="rgba(0,0,0,0.12)" stroke-width="0.8"/>
<line x1="449.3" x2="449.3" y1="545" y2="736" stroke="rgba(0,0,0,0.24)" stroke-width="0.8"/>
<line x1="452.9" x2="452.9" y1="545" y2="736" stroke="rgba(0,0,0,0.12)" stroke-width="0.8"/>
<line x1="456.5" x2="456.5" y1="545" y2="736" stroke="rgba(0,0,0,0.24)" stroke-width="0.8"/>
<line x1="460.1" x2="460.1" y1="545" y2="736" stroke="rgba(0,0,0,0.12)" stroke-width="0.8"/>
<line x1="463.6" x2="463.6" y1="545" y2="736" stroke="rgba(0,0,0,0.24)" stroke-width="0.8"/>
<line x1="467.2" x2="467.2" y1="545" y2="736" stroke="rgba(0,0,0,0.12)" stroke-width="0.8"/>
<line x1="470.8" x2="470.8" y1="545" y2="736" stroke="rgba(0,0,0,0.24)" stroke-width="0.8"/>
<line x1="474.4" x2="474.4" y1="545" y2="736" stroke="rgba(0,0,0,0.12)" stroke-width="0.8"/>
<line x1="478.0" x2="478.0" y1="545" y2="736" stroke="rgba(0,0,0,0.24)" stroke-width="0.8"/>
<line x1="481.5" x2="481.5" y1="545" y2="736" stroke="rgba(0,0,0,0.12)" stroke-width="0.8"/>
<line x1="485.1" x2="485.1" y1="545" y2="736" stroke="rgba(0,0,0,0.24)" stroke-width="0.8"/>
<line x1="488.7" x2="488.7" y1="545" y2="736" stroke="rgba(0,0,0,0.12)" stroke-width="0.8"/>
<line x1="492.3" x2="492.3" y1="545" y2="736" stroke="rgba(0,0,0,0.24)" stroke-width="0.8"/>
<line x1="495.9" x2="495.9" y1="545" y2="736" stroke="rgba(0,0,0,0.12)" stroke-width="0.8"/>
<line x1="499.4" x2="499.4" y1="545" y2="736" stroke="rgba(0,0,0,0.24)" stroke-width="0.8"/>
<line x1="503.0" x2="503.0" y1="545" y2="736" stroke="rgba(0,0,0,0.12)" stroke-width="0.8"/>
<line x1="506.6" x2="506.6" y1="545" y2="736" stroke="rgba(0,0,0,0.24)" stroke-width="0.8"/>
<line x1="510.2" x2="510.2" y1="545" y2="736" stroke="rgba(0,0,0,0.12)" stroke-width="0.8"/>
<line x1="513.8" x2="513.8" y1="545" y2="736" stroke="rgba(0,0,0,0.24)" stroke-width="0.8"/>
<line x1="517.3" x2="517.3" y1="545" y2="736" stroke="rgba(0,0,0,0.12)" stroke-width="0.8"/>
<line x1="520.9" x2="520.9" y1="545" y2="736" stroke="rgba(0,0,0,0.24)" stroke-width="0.8"/>
<line x1="524.5" x2="524.5" y1="545" y2="736" stroke="rgba(0,0,0,0.12)" stroke-width="0.8"/>
<line x1="528.1" x2="528.1" y1="545" y2="736" stroke="rgba(0,0,0,0.24)" stroke-width="0.8"/>
<line x1="531.7" x2="531.7" y1="545" y2="736" stroke="rgba(0,0,0,0.12)" stroke-width="0.8"/>
<line x1="535.2" x2="535.2" y1="545" y2="736" stroke="rgba(0,0,0,0.24)" stroke-width="0.8"/>
<line x1="538.8" x2="538.8" y1="545" y2="736" stroke="rgba(0,0,0,0.12)" stroke-width="0.8"/>
<line x1="542.4" x2="542.4" y1="545" y2="736" stroke="rgba(0,0,0,0.24)" stroke-width="0.8"/>
<line x1="546.0" x2="546.0" y1="545" y2="736" stroke="rgba(0,0,0,0.12)" stroke-width="0.8"/>
<line x1="549.6" x2="549.6" y1="545" y2="736" stroke="rgba(0,0,0,0.24)" stroke-width="0.8"/>
<line x1="553.1" x2="553.1" y1="545" y2="736" stroke="rgba(0,0,0,0.12)" stroke-width="0.8"/>
<line x1="556.7" x2="556.7" y1="545" y2="736" stroke="rgba(0,0,0,0.24)" stroke-width="0.8"/>
<line x1="560.3" x2="560.3" y1="545" y2="736" stroke="rgba(0,0,0,0.12)" stroke-width="0.8"/>
<line x1="563.9" x2="563.9" y1="545" y2="736" stroke="rgba(0,0,0,0.24)" stroke-width="0.8"/>
<line x1="567.5" x2="567.5" y1="545" y2="736" stroke="rgba(0,0,0,0.12)" stroke-width="0.8"/>
<line x1="571.0" x2="571.0" y1="545" y2="736" stroke="rgba(0,0,0,0.24)" stroke-width="0.8"/>
<line x1="574.6" x2="574.6" y1="545" y2="736" stroke="rgba(0,0,0,0.12)" stroke-width="0.8"/>
<line x1="578.2" x2="578.2" y1="545" y2="736" stroke="rgba(0,0,0,0.24)" stroke-width="0.8"/>
<line x1="581.8" x2="581.8" y1="545" y2="736" stroke="rgba(0,0,0,0.12)" stroke-width="0.8"/>
<line x1="585.4" x2="585.4" y1="545" y2="736" stroke="rgba(0,0,0,0.24)" stroke-width="0.8"/>
<line x1="588.9" x2="588.9" y1="545" y2="736" stroke="rgba(0,0,0,0.12)" stroke-width="0.8"/>
<line x1="592.5" x2="592.5" y1="545" y2="736" stroke="rgba(0,0,0,0.24)" stroke-width="0.8"/>
<line x1="596.1" x2="596.1" y1="545" y2="736" stroke="rgba(0,0,0,0.12)" stroke-width="0.8"/>
<line x1="599.7" x2="599.7" y1="545" y2="736" stroke="rgba(0,0,0,0.24)" stroke-width="0.8"/>
<line x1="603.3" x2="603.3" y1="545" y2="736" stroke="rgba(0,0,0,0.12)" stroke-width="0.8"/>
<line x1="606.8" x2="606.8" y1="545" y2="736" stroke="rgba(0,0,0,0.24)" stroke-width="0.8"/>
<line x1="610.4" x2="610.4" y1="545" y2="736" stroke="rgba(0,0,0,0.12)" stroke-width="0.8"/>
<line x1="614.0" x2="614.0" y1="545" y2="736" stroke="rgba(0,0,0,0.24)" stroke-width="0.8"/>
<line x1="617.6" x2="617.6" y1="545" y2="736" stroke="rgba(0,0,0,0.12)" stroke-width="0.8"/>
<line x1="621.2" x2="621.2" y1="545" y2="736" stroke="rgba(0,0,0,0.24)" stroke-width="0.8"/>
<line x1="624.7" x2="624.7" y1="545" y2="736" stroke="rgba(0,0,0,0.12)" stroke-width="0.8"/>
<line x1="628.3" x2="628.3" y1="545" y2="736" stroke="rgba(0,0,0,0.24)" stroke-width="0.8"/>
<line x1="631.9" x2="631.9" y1="545" y2="736" stroke="rgba(0,0,0,0.12)" stroke-width="0.8"/>
<line x1="635.5" x2="635.5" y1="545" y2="736" stroke="rgba(0,0,0,0.24)" stroke-width="0.8"/>
<line x1="639.1" x2="639.1" y1="545" y2="736" stroke="rgba(0,0,0,0.12)" stroke-width="0.8"/>
<line x1="642.6" x2="642.6" y1="545" y2="736" stroke="rgba(0,0,0,0.24)" stroke-width="0.8"/>
<line x1="646.2" x2="646.2" y1="545" y2="736" stroke="rgba(0,0,0,0.12)" stroke-width="0.8"/>
<line x1="649.8" x2="649.8" y1="545" y2="736" stroke="rgba(0,0,0,0.24)" stroke-width="0.8"/>
<line x1="653.4" x2="653.4" y1="545" y2="736" stroke="rgba(0,0,0,0.12)" stroke-width="0.8"/>
<line x1="657.0" x2="657.0" y1="545" y2="736" stroke="rgba(0,0,0,0.24)" stroke-width="0.8"/>
<line x1="660.5" x2="660.5" y1="545" y2="736" stroke="rgba(0,0,0,0.12)" stroke-width="0.8"/>
<line x1="664.1" x2="664.1" y1="545" y2="736" stroke="rgba(0,0,0,0.24)" stroke-width="0.8"/>
<line x1="667.7" x2="667.7" y1="545" y2="736" stroke="rgba(0,0,0,0.12)" stroke-width="0.8"/>
<line x1="671.3" x2="671.3" y1="545" y2="736" stroke="rgba(0,0,0,0.24)" stroke-width="0.8"/>
<line x1="674.9" x2="674.9" y1="545" y2="736" stroke="rgba(0,0,0,0.12)" stroke-width="0.8"/>
<line x1="678.4" x2="678.4" y1="545" y2="736" stroke="rgba(0,0,0,0.24)" stroke-width="0.8"/>
<line x1="682.0" x2="682.0" y1="545" y2="736" stroke="rgba(0,0,0,0.12)" stroke-width="0.8"/>
<line x1="685.6" x2="685.6" y1="545" y2="736" stroke="rgba(0,0,0,0.24)" stroke-width="0.8"/>
<line x1="689.2" x2="689.2" y1="545" y2="736" stroke="rgba(0,0,0,0.12)" stroke-width="0.8"/>
<line x1="692.8" x2="692.8" y1="545" y2="736" stroke="rgba(0,0,0,0.24)" stroke-width="0.8"/>
<line x1="696.3" x2="696.3" y1="545" y2="736" stroke="rgba(0,0,0,0.12)" stroke-width="0.8"/>
<line x1="699.9" x2="699.9" y1="545" y2="736" stroke="rgba(0,0,0,0.24)" stroke-width="0.8"/>
<line x1="703.5" x2="703.5" y1="545" y2="736" stroke="rgba(0,0,0,0.12)" stroke-width="0.8"/>
<line x1="707.1" x2="707.1" y1="545" y2="736" stroke="rgba(0,0,0,0.24)" stroke-width="0.8"/>
<line x1="710.7" x2="710.7" y1="545" y2="736" stroke="rgba(0,0,0,0.12)" stroke-width="0.8"/>
<line x1="714.2" x2="714.2" y1="545" y2="736" stroke="rgba(0,0,0,0.24)" stroke-width="0.8"/>
<line x1="717.8" x2="717.8" y1="545" y2="736" stroke="rgba(0,0,0,0.12)" stroke-width="0.8"/>
<line x1="721.4" x2="721.4" y1="545" y2="736" stroke="rgba(0,0,0,0.24)" stroke-width="0.8"/>
</g>
<polyline points="433.4,604.6 434.4,604.6 436.5,604.6 439.6,604.6 443.8,604.6 447.2,604.7 450.0,604.8 452.1,604.9 453.5,605.2 454.8,605.5 456.1,606.1 457.2,606.8 458.3,607.7 459.4,608.7 460.4,609.9 461.3,611.2 462.2,612.8 463.0,614.4 463.8,616.3 464.4,618.3 465.1,620.4 465.7,623.0 466.4,626.0 467.1,629.4 467.9,633.3 468.6,636.7 469.2,639.7 469.7,642.2 470.2,644.4 470.6,646.4 471.1,648.3 471.5,650.0 471.8,651.6 472.2,653.0 472.6,654.4 473.0,655.5 473.4,656.5 473.9,657.5 474.5,658.5 475.1,659.5 475.9,660.5 476.6,661.4 477.4,662.2 478.1,662.9 478.9,663.6 479.7,664.1 480.6,664.7 481.5,665.1 482.5,665.6 483.6,665.9 484.7,666.2 485.9,666.5 487.1,666.7 492.5,666.8 502.0,667.0 515.6,667.0 533.4,667.0 551.4,667.0 569.6,667.0 588.1,667.0 606.9,667.0 625.2,666.9 643.2,666.5 660.9,666.1 678.1,665.5 691.1,665.1 699.7,664.8 704.0,664.6" fill="none" stroke="#3c3c3c" stroke-width="1.9" stroke-linejoin="round" stroke-linecap="butt" />
<polyline points="433.4,604.6 434.4,604.6 436.5,604.6 439.6,604.6 443.8,604.6 447.2,604.7 450.0,604.8 452.1,604.9 453.5,605.2 454.8,605.5 456.1,606.1 457.2,606.8 458.3,607.7 459.4,608.7 460.4,609.9 461.3,611.2 462.2,612.8 463.0,614.4 463.8,616.3 464.4,618.3 465.1,620.4 465.7,623.0 466.4,626.0 467.1,629.4 467.9,633.3 468.6,636.7 469.2,639.7 469.7,642.2 470.2,644.4 470.6,646.4 471.1,648.3 471.5,650.0 471.8,651.6 472.2,653.0 472.6,654.4 473.0,655.5 473.4,656.5 473.9,657.5 474.5,658.5 475.1,659.5 475.9,660.5 476.6,661.4 477.4,662.2 478.1,662.9 478.9,663.6 479.7,664.1 480.6,664.7 481.5,665.1 482.5,665.6 483.6,665.9 484.7,666.2 485.9,666.5 487.1,666.7 492.5,666.8 502.0,667.0 515.6,667.0 533.4,667.0 551.4,667.0 569.6,667.0 588.1,667.0 606.9,667.0 625.2,666.9 643.2,666.5 660.9,666.1 678.1,665.5 691.1,665.1 699.7,664.8 704.0,664.6" fill="none" stroke="#8a8a8a" stroke-width="0.7" stroke-linejoin="round" stroke-linecap="butt" />
<polyline points="433.4,615.3 434.1,615.3 435.6,615.3 437.8,615.3 440.7,615.3 443.0,615.4 444.8,615.6 446.1,615.9 446.9,616.4 447.6,616.9 448.4,617.6 449.1,618.3 449.9,619.2 450.6,620.3 451.2,621.4 451.8,622.6 452.2,624.0 452.7,625.4 453.2,627.0 453.7,628.6 454.1,630.3 454.5,632.4 454.9,634.7 455.2,637.4 455.4,640.5 455.6,643.9 455.8,647.6 456.0,651.8 456.1,656.2 456.3,660.1 456.4,663.2 456.6,665.6 456.9,667.4 457.1,669.1 457.4,670.8 457.7,672.5 458.1,674.2 458.5,675.7 458.9,676.9 459.3,677.9 459.8,678.8 460.3,679.6 460.9,680.3 461.5,681.0 462.2,681.8 462.9,682.4 463.6,682.9 464.4,683.4 465.3,683.9 466.2,684.3 467.1,684.6 468.2,684.9 469.2,685.2 470.6,685.4 472.3,685.6 474.3,685.7 476.6,685.8 483.3,685.8 494.4,685.9 510.0,685.9 530.0,686.0 549.7,685.9 569.1,685.8 588.1,685.6 606.9,685.4 626.2,685.0 646.1,684.4 666.5,683.7 687.5,682.9 703.2,682.2 713.8,681.8 719.0,681.6" fill="none" stroke="#5a2a00" stroke-width="2.0" stroke-linejoin="round" stroke-linecap="butt" />
<polyline points="433.4,615.3 434.1,615.3 435.6,615.3 437.8,615.3 440.7,615.3 443.0,615.4 444.8,615.6 446.1,615.9 446.9,616.4 447.6,616.9 448.4,617.6 449.1,618.3 449.9,619.2 450.6,620.3 451.2,621.4 451.8,622.6 452.2,624.0 452.7,625.4 453.2,627.0 453.7,628.6 454.1,630.3 454.5,632.4 454.9,634.7 455.2,637.4 455.4,640.5 455.6,643.9 455.8,647.6 456.0,651.8 456.1,656.2 456.3,660.1 456.4,663.2 456.6,665.6 456.9,667.4 457.1,669.1 457.4,670.8 457.7,672.5 458.1,674.2 458.5,675.7 458.9,676.9 459.3,677.9 459.8,678.8 460.3,679.6 460.9,680.3 461.5,681.0 462.2,681.8 462.9,682.4 463.6,682.9 464.4,683.4 465.3,683.9 466.2,684.3 467.1,684.6 468.2,684.9 469.2,685.2 470.6,685.4 472.3,685.6 474.3,685.7 476.6,685.8 483.3,685.8 494.4,685.9 510.0,685.9 530.0,686.0 549.7,685.9 569.1,685.8 588.1,685.6 606.9,685.4 626.2,685.0 646.1,684.4 666.5,683.7 687.5,682.9 703.2,682.2 713.8,681.8 719.0,681.6" fill="none" stroke="#f07818" stroke-width="1.0" stroke-linejoin="round" stroke-linecap="butt" />
<polyline points="433.4,641.2 500.0,641.2 523.0,641.4" fill="none" stroke="#5a149a" stroke-width="1.8" stroke-linejoin="round" stroke-linecap="butt" />
<polyline points="465.0,641.5 465.8,641.8 467.4,642.2 469.9,643.0 473.1,644.0 476.1,645.1 478.7,646.3 481.0,647.6 483.0,648.9 485.0,650.2 487.0,651.4 489.0,652.5 491.0,653.5 493.5,654.3 496.5,654.9 500.0,655.4 504.0,655.6 510.1,655.8 518.4,655.9 528.8,655.9 541.2,655.9 555.3,655.8 570.9,655.7 588.1,655.5 606.9,655.3 626.4,655.0 646.7,654.5 667.8,653.9 689.6,653.1 706.0,652.6 716.9,652.2 722.4,652.0" fill="none" stroke="#5a149a" stroke-width="2.4" stroke-linejoin="round" stroke-linecap="butt" />
<polygon points="468,640.8 521,640.8 527,645 534,651 542,655.2 500,656.6 494,655.5 486,651 478,645" fill="rgba(70,10,150,0.35)"/>
<polyline points="433.4,597.2 436.9,597.2 443.8,597.2 454.2,597.2 468.2,597.2 479.0,597.3 486.6,597.4 491.2,597.7 492.8,598.0 494.2,598.4 495.6,598.8 496.9,599.3 498.1,599.9 499.3,600.5 500.3,601.2 501.3,601.9 502.2,602.8 503.0,603.7 503.6,604.6 504.2,605.7 504.6,606.8 505.1,607.9 505.5,609.2 505.9,610.5 506.2,611.9 506.6,613.4 506.9,614.9 507.1,616.5 507.3,618.1 507.5,622.0 507.6,628.1 507.7,636.5 507.7,647.1 507.8,655.6 508.0,662.0 508.2,666.4 508.4,668.6 508.7,670.8 509.1,672.9 509.5,674.9 509.9,676.9 510.4,678.7 510.9,680.5 511.4,682.1 512.0,683.7 512.5,685.1 513.1,686.5 513.7,687.7 514.3,688.8 515.0,689.9 515.7,690.9 516.4,691.8 517.3,692.7 518.2,693.5 519.1,694.3 520.2,695.0 521.2,695.6 522.4,696.2 523.6,696.6 524.8,697.0 526.1,697.2 527.5,697.4 529.0,697.6 530.6,697.8 532.4,697.8 539.9,697.9 553.3,698.1 572.5,698.2 597.5,698.2 620.5,698.1 641.6,697.8 660.7,697.2 677.8,696.5 690.7,695.9 699.2,695.5 703.5,695.3" fill="none" stroke="#0c0c78" stroke-width="2.0" stroke-linejoin="round" stroke-linecap="butt" />
<polyline points="433.4,597.2 436.9,597.2 443.8,597.2 454.2,597.2 468.2,597.2 479.0,597.3 486.6,597.4 491.2,597.7 492.8,598.0 494.2,598.4 495.6,598.8 496.9,599.3 498.1,599.9 499.3,600.5 500.3,601.2 501.3,601.9 502.2,602.8 503.0,603.7 503.6,604.6 504.2,605.7 504.6,606.8 505.1,607.9 505.5,609.2 505.9,610.5 506.2,611.9 506.6,613.4 506.9,614.9 507.1,616.5 507.3,618.1 507.5,622.0 507.6,628.1 507.7,636.5 507.7,647.1 507.8,655.6 508.0,662.0 508.2,666.4 508.4,668.6 508.7,670.8 509.1,672.9 509.5,674.9 509.9,676.9 510.4,678.7 510.9,680.5 511.4,682.1 512.0,683.7 512.5,685.1 513.1,686.5 513.7,687.7 514.3,688.8 515.0,689.9 515.7,690.9 516.4,691.8 517.3,692.7 518.2,693.5 519.1,694.3 520.2,695.0 521.2,695.6 522.4,696.2 523.6,696.6 524.8,697.0 526.1,697.2 527.5,697.4 529.0,697.6 530.6,697.8 532.4,697.8 539.9,697.9 553.3,698.1 572.5,698.2 597.5,698.2 620.5,698.1 641.6,697.8 660.7,697.2 677.8,696.5 690.7,695.9 699.2,695.5 703.5,695.3" fill="none" stroke="#1428f0" stroke-width="1.0" stroke-linejoin="round" stroke-linecap="butt" />
<polyline points="433.4,580.0 438.6,580.0 449.0,580.0 464.6,580.0 485.5,580.0 501.6,580.1 513.1,580.2 519.8,580.4 521.9,580.6 524.0,581.0 526.2,581.5 528.4,582.1 530.6,582.9 532.8,583.8 534.9,584.9 536.9,586.2 538.9,587.8 540.5,589.5 541.9,591.6 543.1,594.0 543.9,596.7 544.6,599.9 545.1,603.7 545.5,607.9 545.7,612.8 545.9,618.6 546.0,625.4 546.2,633.2 546.2,642.1 546.4,649.3 546.6,654.9 546.8,658.9 547.1,661.4 547.4,663.7 547.8,666.0 548.2,668.2 548.8,670.4 549.3,672.4 549.8,674.3 550.4,676.0 551.1,677.6 551.8,679.2 552.5,680.7 553.3,682.2 554.2,683.7 555.2,685.1 556.2,686.4 557.2,687.7 558.3,688.8 559.5,690.0 560.6,691.0 561.8,692.0 563.0,692.9 564.2,693.7 565.5,694.5 566.8,695.1 568.0,695.7 569.4,696.2 570.7,696.6 572.1,697.0 573.4,697.3 575.4,697.6 577.9,697.9 580.9,698.2 584.6,698.5 590.1,698.7 597.5,698.9 606.9,699.1 618.1,699.2 630.8,699.1 645.0,698.8 660.7,698.4 677.8,697.6 690.7,697.1 699.2,696.8 703.5,696.6" fill="none" stroke="#08480c" stroke-width="2.2" stroke-linejoin="round" stroke-linecap="butt" />
<polyline points="433.4,580.0 438.6,580.0 449.0,580.0 464.6,580.0 485.5,580.0 501.6,580.1 513.1,580.2 519.8,580.4 521.9,580.6 524.0,581.0 526.2,581.5 528.4,582.1 530.6,582.9 532.8,583.8 534.9,584.9 536.9,586.2 538.9,587.8 540.5,589.5 541.9,591.6 543.1,594.0 543.9,596.7 544.6,599.9 545.1,603.7 545.5,607.9 545.7,612.8 545.9,618.6 546.0,625.4 546.2,633.2 546.2,642.1 546.4,649.3 546.6,654.9 546.8,658.9 547.1,661.4 547.4,663.7 547.8,666.0 548.2,668.2 548.8,670.4 549.3,672.4 549.8,674.3 550.4,676.0 551.1,677.6 551.8,679.2 552.5,680.7 553.3,682.2 554.2,683.7 555.2,685.1 556.2,686.4 557.2,687.7 558.3,688.8 559.5,690.0 560.6,691.0 561.8,692.0 563.0,692.9 564.2,693.7 565.5,694.5 566.8,695.1 568.0,695.7 569.4,696.2 570.7,696.6 572.1,697.0 573.4,697.3 575.4,697.6 577.9,697.9 580.9,698.2 584.6,698.5 590.1,698.7 597.5,698.9 606.9,699.1 618.1,699.2 630.8,699.1 645.0,698.8 660.7,698.4 677.8,697.6 690.7,697.1 699.2,696.8 703.5,696.6" fill="none" stroke="#18d018" stroke-width="0.9" stroke-linejoin="round" stroke-linecap="butt" />
<text x="423.8" y="577.6" text-anchor="end" font-size="10.0" font-family="Liberation Sans, sans-serif" fill="#222" textLength="18.4" lengthAdjust="spacingAndGlyphs">8000</text>
<text x="423.8" y="658.8" text-anchor="end" font-size="10.0" font-family="Liberation Sans, sans-serif" fill="#222" textLength="13.7" lengthAdjust="spacingAndGlyphs">800</text>
<text x="423.8" y="739.6" text-anchor="end" font-size="10.0" font-family="Liberation Sans, sans-serif" fill="#222" textLength="9.3" lengthAdjust="spacingAndGlyphs">80</text>
<text x="433.4" y="754.6" text-anchor="middle" font-size="10.2" font-family="Liberation Sans, sans-serif" fill="#222" textLength="5.9" lengthAdjust="spacingAndGlyphs">0</text>
<text x="481.6" y="754.6" text-anchor="middle" font-size="10.2" font-family="Liberation Sans, sans-serif" fill="#222" textLength="5.9" lengthAdjust="spacingAndGlyphs">5</text>
<text x="529.8" y="754.6" text-anchor="middle" font-size="10.2" font-family="Liberation Sans, sans-serif" fill="#222" textLength="11.7" lengthAdjust="spacingAndGlyphs">10</text>
<text x="577.9" y="754.6" text-anchor="middle" font-size="10.2" font-family="Liberation Sans, sans-serif" fill="#222" textLength="11.7" lengthAdjust="spacingAndGlyphs">15</text>
<text x="626.1" y="754.6" text-anchor="middle" font-size="10.2" font-family="Liberation Sans, sans-serif" fill="#222" textLength="11.7" lengthAdjust="spacingAndGlyphs">20</text>
<text x="674.3" y="754.6" text-anchor="middle" font-size="10.2" font-family="Liberation Sans, sans-serif" fill="#222" textLength="11.7" lengthAdjust="spacingAndGlyphs">25</text>
<text x="722.5" y="754.6" text-anchor="middle" font-size="10.2" font-family="Liberation Sans, sans-serif" fill="#222" textLength="11.7" lengthAdjust="spacingAndGlyphs">30</text>
</g>
</svg>
</body></html>
